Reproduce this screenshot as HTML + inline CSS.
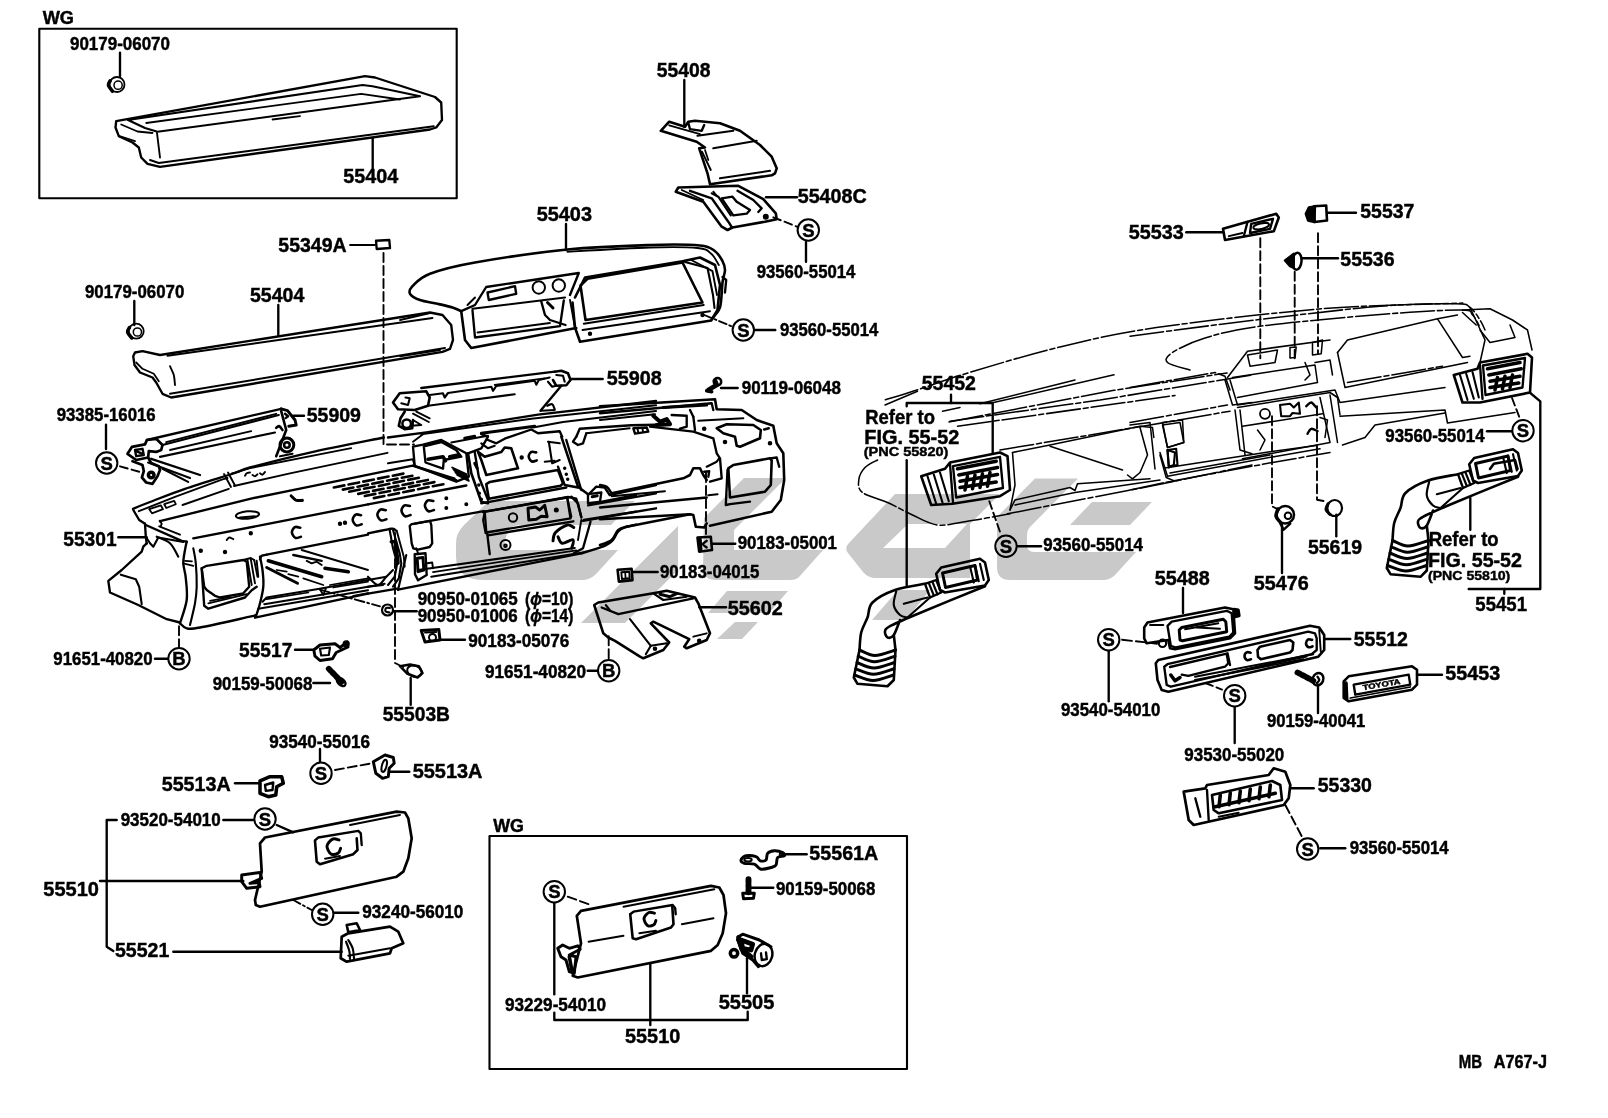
<!DOCTYPE html>
<html><head><meta charset="utf-8"><title>Parts diagram</title>
<style>
html,body{margin:0;padding:0;background:#fff}
svg{display:block;filter:grayscale(1)}
text{font-family:"Liberation Sans",sans-serif;stroke:#000;stroke-width:0.45px}
path,circle,ellipse{stroke-linejoin:round;stroke-linecap:round}
</style></head><body>
<svg width="1608" height="1118" viewBox="0 0 1608 1118">
<rect width="1608" height="1118" fill="#fff"/>
<path d="M489 501 L635 501 L611 525 L520 525 Q508 525 506 537 L505 540 Q503 550 513 550 L618 550 L596 574 Q590 580 582 580 L484 580 Q456 580 456 556 L456 543 Q456 533 464 525 Z" fill="#c9c9c9" stroke="none"/>
<path d="M678 526 L678 570 L625 623 L581 623 Z" fill="#c9c9c9" stroke="none"/>
<path d="M744 478 L786 478 L734 530 L734 550 L823 550 L800 576 Q797 580 790 580 L716 580 Q703 580 703 568 L704 518 Z" fill="#c9c9c9" stroke="none"/>
<path d="M727 591 L788 591 L769 613 L708 613 Z" fill="#c9c9c9" stroke="none"/>
<path d="M735 622 L758 622 L742 639 L717 639 Z" fill="#c9c9c9" stroke="none"/>
<path d="M895 494 L1000 494 L970 524 L970 578 L876 578 Q868 578 863 572 L848 553 Q844 548 849 543 Z M908 524 L967 524 L945 548 L883 548 Z" fill="#c9c9c9" stroke="none" fill-rule="evenodd"/>
<path d="M898 590 L930 590 L906 620 L872 620 Z" fill="#c9c9c9" stroke="none"/>
<path d="M1035 478.5 L1078 478.5 L1030 527 Q1027 530 1027 536 L1027 545 Q1027 552 1034 552 L1136 552 L1115 575 Q1110 580 1103 580 L1010 580 Q997 580 997 567 L997 517 Z" fill="#c9c9c9" stroke="none"/>
<path d="M1092 502 L1152 502 L1130 525 L1070 525 Z" fill="#c9c9c9" stroke="none"/>
<path d="M116.2 121.2 L365 76.2 L375 77.5 L435 97 L441.2 102.5 L442 120 L436.2 127.5 L430 129.5 L160 166.8 L147.5 163.8 L141.2 157.5 L138.8 147.5 L132.5 142.5 L118.8 136.2 L115.5 127.5Z" fill="none" stroke="#000" stroke-width="2.36"/>
<path d="M433.8 126.2 L158.8 163 L150 160" fill="none" stroke="#000" stroke-width="1.89"/>
<path d="M128 120 L362.5 85 L372.5 86.2 L420 96.2 L401.2 98.8 L157.5 131.8 L145 128 L128 120" fill="none" stroke="#000" stroke-width="2.12"/>
<path d="M146.2 123 L361.2 93.8 L400 99.5" fill="none" stroke="#000" stroke-width="1.77"/>
<path d="M157 133 L160 157.5" fill="none" stroke="#000" stroke-width="1.89"/>
<path d="M121.2 124.5 L137.5 131.5 L152.5 133" fill="none" stroke="#000" stroke-width="1.77"/>
<path d="M119.5 136.2 L135 141.2" fill="none" stroke="#000" stroke-width="1.77"/>
<path d="M272.5 119.5 L300 116.2" fill="none" stroke="#000" stroke-width="1.77"/>
<circle cx="117" cy="84.5" r="7.5" fill="none" stroke="#000" stroke-width="1.8"/>
<circle cx="118.1" cy="85.2" r="4.1" fill="none" stroke="#000" stroke-width="1.5"/>
<path d="M110.2 80.8 C109.9 81.5 108 83.5 108.4 85.2 C108.8 87 111.8 90.2 112.5 91.2" fill="none" stroke="#000" stroke-width="3.54"/>
<circle cx="136.2" cy="331.2" r="7.5" fill="none" stroke="#000" stroke-width="1.8"/>
<circle cx="137.4" cy="332" r="4.1" fill="none" stroke="#000" stroke-width="1.5"/>
<path d="M129.5 327.5 C129.2 328.2 127.2 330.2 127.6 332 C128 333.8 131.1 337 131.8 338" fill="none" stroke="#000" stroke-width="3.54"/>
<path d="M135 352.5 L142.5 351.2 L160 355 L430 312.5 L442.5 315 L451.2 325 L453 340 L450 348.8 L442.5 351.8 L171.2 397.5 L162.5 393.8 L156.2 382.5 L152.5 377.5 L140 372.5 L134.5 365 L133.2 356.2Z" fill="none" stroke="#000" stroke-width="2.36"/>
<path d="M167.5 355.8 L432.5 318" fill="none" stroke="#000" stroke-width="1.89"/>
<path d="M170 393.8 L445 348" fill="none" stroke="#000" stroke-width="1.89"/>
<path d="M170 366.2 C170.6 367.7 172.9 371.9 173.8 375 C174.6 378.1 174.8 383.3 175 385" fill="none" stroke="#000" stroke-width="1.89"/>
<path d="M136.2 362.5 L142.5 368.8 L153.8 373.8 L158.8 381.2" fill="none" stroke="#000" stroke-width="1.77"/>
<path d="M127.5 453.8 L131.9 446.9 L145 444.4 L146.9 440 L156.2 438.8 L162.5 445 L161.2 450 L156.2 451.9 L148.8 451.2 L148.1 457.5 L136.2 460Z" fill="none" stroke="#000" stroke-width="2.71"/>
<path d="M135 450 L142.5 448.8 L143.8 455 L136.2 456.2Z" fill="none" stroke="#000" stroke-width="2.36"/>
<path d="M136.2 451.2 L142.5 453.8" fill="none" stroke="#000" stroke-width="2.36"/>
<path d="M132.5 461.2 L142.5 465 L143.8 471.2 L141.9 477.5 L146.2 482.5 L152.5 483.8 L157.5 476.2 L160 470 L158.8 466.2 L151.2 463.1 L148.1 457.5" fill="none" stroke="#000" stroke-width="2.71"/>
<circle cx="151.2" cy="475" r="2.8" fill="none" stroke="#000" stroke-width="3.5"/>
<path d="M146.9 440 L281.2 408.8" fill="none" stroke="#000" stroke-width="2.36"/>
<path d="M162.5 445 L278.8 415" fill="none" stroke="#000" stroke-width="2.12"/>
<path d="M166.2 442.2 L276.2 413.8" fill="none" stroke="#000" stroke-width="1.89"/>
<path d="M170 450 L251.2 431.2" fill="none" stroke="#000" stroke-width="1.89"/>
<path d="M160 456.9 L275 432.5" fill="none" stroke="#000" stroke-width="2.12"/>
<path d="M281.2 408.8 L287.5 410.6 L295 420 L296.2 425 L288.8 426.2" fill="none" stroke="#000" stroke-width="2.95"/>
<path d="M281.2 411.2 L286.2 430 L276.2 456.2" fill="none" stroke="#000" stroke-width="2.6"/>
<path d="M276.2 427.8 C276.8 427.5 278.3 425.9 279.4 426.2 C280.4 426.6 282 429.4 282.5 430" fill="none" stroke="#000" stroke-width="2.6"/>
<path d="M285 413.8 L288.1 416.2 L285.6 418.1" fill="none" stroke="#000" stroke-width="2.36"/>
<circle cx="286.9" cy="445" r="6.9" fill="none" stroke="#000" stroke-width="3"/>
<circle cx="286.9" cy="445" r="2.8" fill="none" stroke="#000" stroke-width="2.5"/>
<path d="M280 456.2 L292.5 453.8" fill="none" stroke="#000" stroke-width="2.12"/>
<path d="M151.2 458.8 L200 475" fill="none" stroke="#000" stroke-width="2.36"/>
<path d="M148.1 462.5 L190 478.1" fill="none" stroke="#000" stroke-width="2.12"/>
<path d="M162.5 468.8 L188.1 481.9" fill="none" stroke="#000" stroke-width="2.12"/>
<path d="M660.8 130.8 L669.2 121.7 L685 126.7 L688.3 121.7 L695 120.8 L720 123.3 L740 130.8 L760 145 L771.7 156.7 L776.7 168.3 L775 173.3 L771.7 175.3 L710 184.2 L707.5 173.3 L699.2 148.3 L705 147.5 L696.7 141.7Z" fill="none" stroke="#000" stroke-width="2.6"/>
<path d="M669.2 125.3 L700 134.2" fill="none" stroke="#000" stroke-width="1.89"/>
<path d="M697.5 135.8 L733.3 130.8" fill="none" stroke="#000" stroke-width="2.12"/>
<path d="M713.3 148.3 L756.7 140.8" fill="none" stroke="#000" stroke-width="2.12"/>
<path d="M720 178.3 L770 170.8" fill="none" stroke="#000" stroke-width="2.12"/>
<path d="M702 151.7 L710.8 170" fill="none" stroke="#000" stroke-width="1.89"/>
<path d="M688.3 122.5 L690 129.2 L701.7 130.8 L704.2 125" fill="none" stroke="#000" stroke-width="2.36"/>
<path d="M705 150 L708.3 160" fill="none" stroke="#000" stroke-width="1.77"/>
<path d="M678.3 187.5 L738.3 185.8 L763.3 199.2 L775.8 213.3 L776.7 219.2 L765 221.7 L732.5 227.5 L727.5 230 L721.7 226.7 L703.3 201.7 L675.8 191.7Z" fill="none" stroke="#000" stroke-width="2.6"/>
<path d="M690 190.8 L711.7 198.3 L728.3 221.7 L731.7 227" fill="none" stroke="#000" stroke-width="2.36"/>
<path d="M711.7 193.3 L718.3 196.7 L730.8 215.3" fill="none" stroke="#000" stroke-width="2.12"/>
<path d="M721.7 198.3 L732.5 196.7 L736.7 201.7 L750 210 L746.7 213.7 L733.3 215.3Z" fill="none" stroke="#000" stroke-width="2.36"/>
<path d="M737.5 190.8 L753.3 200 L761.7 208.3 L758.3 212" fill="none" stroke="#000" stroke-width="2.36"/>
<path d="M713.3 191.7 L717 196" fill="none" stroke="#000" stroke-width="1.89"/>
<circle cx="765.8" cy="216.7" r="2" fill="#000" stroke="#000" stroke-width="2"/>
<path d="M681.7 190 L703.3 200" fill="none" stroke="#000" stroke-width="1.77"/>
<path d="M461.2 311.2 C459.8 310.6 456.5 308.8 452.5 307.5 C448.5 306.2 442.9 305 437.5 303.8 C432.1 302.5 424.6 301.7 420 300 C415.4 298.3 411.2 296 410 293.8 C408.8 291.5 409.2 289.6 412.5 286.2 C415.8 282.9 419.6 277.7 430 273.8 C440.4 269.8 452.1 266.5 475 262.5 C497.9 258.5 538.3 252.4 567.5 249.5 C596.7 246.6 627.9 245.7 650 245 C672.1 244.3 689.2 244.5 700 245.5 C710.8 246.5 711.2 248.6 715 251.2 C718.8 253.9 720.8 258.1 722.5 261.2 C724.2 264.4 725 266.5 725 270 C725 273.5 723.3 276.2 722.5 282.5 C721.7 288.8 721.7 301.6 720 307.5 C718.3 313.4 713.8 316.2 712.5 318" fill="none" stroke="#000" stroke-width="2.6"/>
<path d="M567.5 251.8 C581.2 251 628.3 248.1 650 247.5 C671.7 246.9 687.3 247 697.5 248 C707.7 249 707.7 250.9 711.2 253.8 C714.8 256.6 717.5 263.1 718.8 265" fill="none" stroke="#000" stroke-width="1.89"/>
<path d="M461.2 311.2 L465 340 L471.2 348 L576.2 328" fill="none" stroke="#000" stroke-width="2.6"/>
<path d="M461.2 311.2 L475 305 L486.2 287 L578.8 273 L570 295" fill="none" stroke="#000" stroke-width="2.36"/>
<path d="M487.5 292.5 L515 286.2 L516.2 293.8 L488.8 300Z" fill="none" stroke="#000" stroke-width="2.36"/>
<circle cx="538.8" cy="287.5" r="6.2" fill="none" stroke="#000" stroke-width="2"/>
<circle cx="558.8" cy="285.5" r="6.2" fill="none" stroke="#000" stroke-width="2"/>
<path d="M472.5 308.8 L565 297.5" fill="none" stroke="#000" stroke-width="2.12"/>
<path d="M472.5 310.5 L475 337.5 L560 326.2 L563.8 300.5" fill="none" stroke="#000" stroke-width="2.36"/>
<path d="M477.5 332.5 L550 323" fill="none" stroke="#000" stroke-width="1.77"/>
<path d="M541.2 301.2 L545 315 L550 320 L565.5 325" fill="none" stroke="#000" stroke-width="2.36"/>
<path d="M547.5 302.5 L553 308" fill="none" stroke="#000" stroke-width="2.95"/>
<path d="M467.5 305 L475 297.5" fill="none" stroke="#000" stroke-width="1.89"/>
<path d="M575 297.5 L585 277.5 L682.5 261.2 L700 257.5 L715 265 L720 285 L717.5 310 L711.2 320.5 L580 341.8 L575 327.5 L572.5 302.5" fill="none" stroke="#000" stroke-width="2.6"/>
<path d="M580.5 285.5 L587.5 278.8 L682.5 262.5 L702.5 302.5 L585.5 320Z" fill="none" stroke="#000" stroke-width="2.6"/>
<path d="M685 262 L707.5 268 L713 295 L714.5 308" fill="none" stroke="#000" stroke-width="2.12"/>
<path d="M691.2 260 L712.5 271.2 L717 295" fill="none" stroke="#000" stroke-width="1.89"/>
<path d="M583.8 323.8 L703.8 305" fill="none" stroke="#000" stroke-width="1.89"/>
<path d="M582.5 330 L710 311.2" fill="none" stroke="#000" stroke-width="1.89"/>
<circle cx="590" cy="333.8" r="1.2" fill="#000" stroke="#000" stroke-width="2"/>
<circle cx="702.5" cy="315" r="1.2" fill="#000" stroke="#000" stroke-width="2"/>
<path d="M722.5 277 L726.2 280 L725 292.5" fill="none" stroke="#000" stroke-width="2.36"/>
<path d="M570 300 L575 327.5" fill="none" stroke="#000" stroke-width="1.89"/>
<path d="M400 320 L430 313" fill="none" stroke="#000" stroke-width="1.89"/>
<path d="M400 356.2 L440 350" fill="none" stroke="#000" stroke-width="1.89"/>
<path d="M133 508.8 C135.8 507.6 141.3 505.3 150 502 C158.7 498.7 170.8 493.6 185 488.8 C199.2 483.9 224.2 476.5 235 473 C245.8 469.5 237.3 470.9 250 467.5 C262.7 464.1 288.7 457.3 311 452.3 C333.3 447.3 371.6 440 383.8 437.5" fill="none" stroke="#000" stroke-width="2.36"/>
<path d="M133.3 510 L139.2 520 L145 523.7" fill="none" stroke="#000" stroke-width="2.36"/>
<path d="M138.8 511.2 L175 496.9 L222.5 479.4 L227.5 478" fill="none" stroke="#000" stroke-width="1.89"/>
<path d="M232 473.5 L250 468.1 L351.2 448.1" fill="none" stroke="#000" stroke-width="1.89"/>
<path d="M149.2 509.2 L160.8 505.3 L163 509.2 L152 513.3Z" fill="none" stroke="#000" stroke-width="1.77"/>
<path d="M164.2 504.2 L174.2 500.8 L175.8 504.2 L166.3 508Z" fill="none" stroke="#000" stroke-width="1.77"/>
<path d="M224 474 L231 487" fill="none" stroke="#000" stroke-width="1.89"/>
<path d="M228 472.5 L235 485.5" fill="none" stroke="#000" stroke-width="1.89"/>
<path d="M245 475.8 C245.3 475.4 245.8 473.9 246.7 473.3 C247.5 472.8 249.4 472.6 250 472.5" fill="none" stroke="#000" stroke-width="1.89"/>
<path d="M252.5 475 C252.9 475.2 254.2 476.5 255 476.3 C255.8 476.2 257.1 474.5 257.5 474.2" fill="none" stroke="#000" stroke-width="1.89"/>
<path d="M260 473.3 C260.4 473.6 261.7 474.9 262.5 474.7 C263.3 474.4 264.6 472.4 265 472" fill="none" stroke="#000" stroke-width="1.89"/>
<path d="M182.5 505 L228.8 488.8" fill="none" stroke="#000" stroke-width="1.89"/>
<path d="M234 486 L290 473.4 L387.5 452.8" fill="none" stroke="#000" stroke-width="1.89"/>
<path d="M159.7 520.8 L161.7 523.7 L160.8 526.3" fill="none" stroke="#000" stroke-width="1.89"/>
<path d="M160 521.2 L250 498.8 L311 486.3 L412.5 465.6 L456.2 480" fill="none" stroke="#000" stroke-width="2.36"/>
<path d="M145 523.7 L145.8 536.7 L146.7 543.3" fill="none" stroke="#000" stroke-width="2.36"/>
<path d="M145.8 525 L181.7 540.8 L186.7 541.7" fill="none" stroke="#000" stroke-width="2.36"/>
<path d="M159.2 526.3 L180 534.7" fill="none" stroke="#000" stroke-width="1.89"/>
<path d="M193.3 538.3 L266.7 524.2 L368 504.3" fill="none" stroke="#000" stroke-width="2.36"/>
<path d="M186.7 541.7 C186.4 543.1 185.6 546.4 185 550 C184.4 553.6 183.2 558.6 183.3 563.3 C183.5 568.1 185.3 572.2 185.8 578.3 C186.4 584.4 187.6 592.5 186.7 600 C185.7 607.5 181.1 619.4 180 623.3" fill="none" stroke="#000" stroke-width="2.36"/>
<path d="M193.3 548.3 C193.7 550.8 195.3 556.9 195.8 563.3 C196.4 569.7 196.8 580 196.7 586.7 C196.5 593.3 196.1 596.9 195 603.3 C193.9 609.7 190.8 621.4 190 625" fill="none" stroke="#000" stroke-width="2.12"/>
<path d="M183.3 563.3 L193.3 565.8" fill="none" stroke="#000" stroke-width="1.89"/>
<path d="M185 560.8 L192 561.3" fill="none" stroke="#000" stroke-width="1.77"/>
<path d="M180 623.3 C181.1 624.2 183.3 627.6 186.7 628.3 C190 629 189.4 629.4 200 627.5 C210.6 625.6 240.8 618.7 250 616.7 C259.2 614.6 254.2 615.6 255 615.3" fill="none" stroke="#000" stroke-width="2.36"/>
<path d="M255 617.7 L341.7 599.2 L368 593.7" fill="none" stroke="#000" stroke-width="2.36"/>
<path d="M146.7 543.3 L143.3 546.7 L141.7 551.7 L121.7 570 L108.3 580.8 L110 592.5 L138.3 605 L166.7 619.2 L180 622.5" fill="none" stroke="#000" stroke-width="2.36"/>
<path d="M120.8 574.7 L135.8 579.2 L139.2 586.7 L141.7 604.2" fill="none" stroke="#000" stroke-width="2.12"/>
<path d="M156.7 536.7 C158.9 537.8 166.4 540 170 543.3 C173.6 546.7 176.9 554.4 178.3 556.7" fill="none" stroke="#000" stroke-width="2.12"/>
<path d="M145.8 536.7 L150 543.3 L153.3 546.7 L158.3 537.5 L183.3 542" fill="none" stroke="#000" stroke-width="2.12"/>
<path d="M201.7 568.3 L206.7 565.8 L243.3 560 L246.7 561.7 L249.2 586.7 L243.3 593.3 L220 597.5 L215 595.8 L206.7 590 L204.2 586.7Z" fill="none" stroke="#000" stroke-width="2.36"/>
<path d="M201.7 568.3 L204.2 605.8 L208.3 608.7 L245 597.5 L251.7 590.3 L256.7 586.7" fill="none" stroke="#000" stroke-width="2.36"/>
<path d="M208.3 603.3 L246.7 594.2" fill="none" stroke="#000" stroke-width="1.77"/>
<path d="M210 600.8 L230 597" fill="none" stroke="#000" stroke-width="1.77"/>
<path d="M247.5 560 L251.7 585" fill="none" stroke="#000" stroke-width="1.89"/>
<path d="M250.8 559.2 L255 583.3" fill="none" stroke="#000" stroke-width="1.89"/>
<path d="M254.2 560 L257.5 576.7" fill="none" stroke="#000" stroke-width="1.89"/>
<path d="M243.3 560 L250.8 558 L254.2 560" fill="none" stroke="#000" stroke-width="1.89"/>
<path d="M260 556.7 C260.4 558.9 261.9 565 262.5 570 C263.1 575 263.8 581.1 263.3 586.7 C262.9 592.2 261.2 598.3 260 603.3 C258.8 608.3 256.5 614.4 255.8 616.7" fill="none" stroke="#000" stroke-width="2.36"/>
<path d="M256.7 560.8 L258.3 576.7" fill="none" stroke="#000" stroke-width="1.89"/>
<path d="M260 559.2 C260.3 558.6 260.6 556.6 261.7 555.8 C262.8 555.1 265.8 554.9 266.7 554.7" fill="none" stroke="#000" stroke-width="2.36"/>
<path d="M266.7 554.7 L368 534.7" fill="none" stroke="#000" stroke-width="2.36"/>
<path d="M268.3 560.8 L321.7 576.7" fill="none" stroke="#000" stroke-width="3.54"/>
<path d="M266.7 567.5 L297.5 583.3" fill="none" stroke="#000" stroke-width="2.95"/>
<path d="M293.3 555 L321.7 560.8" fill="none" stroke="#000" stroke-width="2.36"/>
<path d="M301.7 550 L368 570" fill="none" stroke="#000" stroke-width="1.89"/>
<path d="M306.7 560.8 L311.7 563.3 L316.7 561.7 L321.7 565" fill="none" stroke="#000" stroke-width="1.89"/>
<path d="M325 568.3 L348.3 571.7" fill="none" stroke="#000" stroke-width="3.54"/>
<path d="M276.7 570 L286.7 571.7" fill="none" stroke="#000" stroke-width="1.77"/>
<path d="M288.3 574.2 L298.3 576.7" fill="none" stroke="#000" stroke-width="1.77"/>
<path d="M303.3 578.3 L323.3 585" fill="none" stroke="#000" stroke-width="1.77"/>
<path d="M262.5 601.7 L266.7 597.5 L316.7 589.2 L368 580" fill="none" stroke="#000" stroke-width="2.12"/>
<path d="M264.2 604.2 L320 595 L368 586.7" fill="none" stroke="#000" stroke-width="1.89"/>
<path d="M266.7 599.2 L308.3 592.5" fill="none" stroke="#000" stroke-width="1.77"/>
<path d="M258.3 608.7 L368 590.3" fill="none" stroke="#000" stroke-width="2.12"/>
<path d="M320 589.2 L323.3 595 L325.8 588.3" fill="none" stroke="#000" stroke-width="1.89"/>
<path d="M330 585 L368 578.3" fill="none" stroke="#000" stroke-width="1.77"/>
<path d="M333.3 587.5 L368 581.7" fill="none" stroke="#000" stroke-width="1.77"/>
<path d="M353.3 595.8 L368 593" fill="none" stroke="#000" stroke-width="1.77"/>
<path d="M300.3 527.7 C299.4 527.6 296.3 526.3 294.9 527.1 C293.5 527.9 291.8 530.7 291.9 532.5 C292 534.3 294 537.2 295.5 537.9 C297 538.6 300 536.9 300.9 536.7" fill="none" stroke="#000" stroke-width="2.6"/>
<path d="M361.1 515.2 C360.2 515.1 357.1 513.8 355.7 514.6 C354.3 515.4 352.6 518.2 352.7 520 C352.8 521.8 354.8 524.7 356.3 525.4 C357.8 526.1 360.8 524.4 361.7 524.2" fill="none" stroke="#000" stroke-width="2.6"/>
<circle cx="250.8" cy="533.3" r="1.2" fill="#000" stroke="#000" stroke-width="2"/>
<circle cx="200.8" cy="550.8" r="1.2" fill="#000" stroke="#000" stroke-width="2"/>
<circle cx="225" cy="552" r="1.2" fill="#000" stroke="#000" stroke-width="2"/>
<circle cx="340" cy="523.7" r="1.2" fill="#000" stroke="#000" stroke-width="2"/>
<circle cx="345" cy="522.7" r="1.2" fill="#000" stroke="#000" stroke-width="2"/>
<path d="M226.7 540 C227.1 539.6 228.1 537.6 229.2 537.5 C230.3 537.4 232.6 538.9 233.3 539.2" fill="none" stroke="#000" stroke-width="1.89"/>
<ellipse cx="247.5" cy="515" rx="11.7" ry="3.7" fill="none" stroke="#000" stroke-width="2" transform="rotate(-5 247.5 515)"/>
<path d="M240 517.5 L255 516.3" fill="none" stroke="#000" stroke-width="1.89"/>
<path d="M290.8 495.8 C291.7 496.6 293.9 499.5 295.8 500.3 C297.8 501.2 301.4 500.8 302.5 500.8" fill="none" stroke="#000" stroke-width="2.36"/>
<path d="M333.8 487.5 L344.4 485.4" fill="none" stroke="#000" stroke-width="2.6"/>
<path d="M348.5 484.6 L359.1 482.4" fill="none" stroke="#000" stroke-width="2.6"/>
<path d="M363.2 481.6 L373.9 479.5" fill="none" stroke="#000" stroke-width="2.6"/>
<path d="M378 478.6 L388.6 476.5" fill="none" stroke="#000" stroke-width="2.6"/>
<path d="M392.8 475.7 L403.4 473.6" fill="none" stroke="#000" stroke-width="2.6"/>
<path d="M342.8 489.6 L353.4 487.5" fill="none" stroke="#000" stroke-width="2.6"/>
<path d="M357.5 486.7 L368.1 484.6" fill="none" stroke="#000" stroke-width="2.6"/>
<path d="M372.2 483.7 L382.9 481.6" fill="none" stroke="#000" stroke-width="2.6"/>
<path d="M387 480.8 L397.6 478.6" fill="none" stroke="#000" stroke-width="2.6"/>
<path d="M401.8 477.8 L412.4 475.7" fill="none" stroke="#000" stroke-width="2.6"/>
<path d="M349.2 491.8 L359.9 489.6" fill="none" stroke="#000" stroke-width="2.6"/>
<path d="M364 488.8 L374.6 486.7" fill="none" stroke="#000" stroke-width="2.6"/>
<path d="M378.8 485.9 L389.4 483.7" fill="none" stroke="#000" stroke-width="2.6"/>
<path d="M393.5 482.9 L404.1 480.8" fill="none" stroke="#000" stroke-width="2.6"/>
<path d="M408.2 479.9 L418.9 477.8" fill="none" stroke="#000" stroke-width="2.6"/>
<path d="M358.2 493.9 L368.9 491.8" fill="none" stroke="#000" stroke-width="2.6"/>
<path d="M373 490.9 L383.6 488.8" fill="none" stroke="#000" stroke-width="2.6"/>
<path d="M387.8 488 L398.4 485.9" fill="none" stroke="#000" stroke-width="2.6"/>
<path d="M402.5 485 L413.1 482.9" fill="none" stroke="#000" stroke-width="2.6"/>
<path d="M417.2 482.1 L427.9 479.9" fill="none" stroke="#000" stroke-width="2.6"/>
<path d="M364.8 496 L375.4 493.9" fill="none" stroke="#000" stroke-width="2.6"/>
<path d="M379.5 493.1 L390.1 490.9" fill="none" stroke="#000" stroke-width="2.6"/>
<path d="M394.2 490.1 L404.9 488" fill="none" stroke="#000" stroke-width="2.6"/>
<path d="M409 487.1 L419.6 485" fill="none" stroke="#000" stroke-width="2.6"/>
<path d="M423.8 484.2 L434.4 482.1" fill="none" stroke="#000" stroke-width="2.6"/>
<path d="M373.8 498.1 L384.4 496" fill="none" stroke="#000" stroke-width="2.6"/>
<path d="M388.5 495.2 L399.1 493.1" fill="none" stroke="#000" stroke-width="2.6"/>
<path d="M403.2 492.2 L413.9 490.1" fill="none" stroke="#000" stroke-width="2.6"/>
<path d="M418 489.3 L428.6 487.1" fill="none" stroke="#000" stroke-width="2.6"/>
<path d="M432.8 486.3 L443.4 484.2" fill="none" stroke="#000" stroke-width="2.6"/>
<path d="M291.2 495.6 C292.1 496.4 294.4 499.3 296.2 500 C298.1 500.7 301.5 500 302.5 500" fill="none" stroke="#000" stroke-width="2.36"/>
<path d="M368 504.3 L466.3 485.5" fill="none" stroke="#000" stroke-width="2.36"/>
<path d="M385.8 510.2 C384.9 510.1 381.8 508.8 380.4 509.6 C379 510.4 377.3 513.2 377.4 515 C377.5 516.8 379.5 519.7 381 520.4 C382.5 521.1 385.5 519.4 386.4 519.2" fill="none" stroke="#000" stroke-width="2.6"/>
<path d="M409.9 506 C409 505.9 405.9 504.6 404.5 505.4 C403.1 506.2 401.4 509 401.5 510.8 C401.6 512.6 403.6 515.5 405.1 516.2 C406.6 516.9 409.6 515.2 410.5 515" fill="none" stroke="#000" stroke-width="2.6"/>
<path d="M433.3 501 C432.4 500.9 429.3 499.6 427.9 500.4 C426.5 501.2 424.8 504 424.9 505.8 C425 507.6 427 510.5 428.5 511.2 C430 511.9 433 510.2 433.9 510" fill="none" stroke="#000" stroke-width="2.6"/>
<circle cx="446.3" cy="498.3" r="1" fill="#000" stroke="#000" stroke-width="2"/>
<circle cx="446.3" cy="508" r="1" fill="#000" stroke="#000" stroke-width="2"/>
<circle cx="466.3" cy="504.2" r="1" fill="#000" stroke="#000" stroke-width="2"/>
<path d="M368 533.3 C371.3 532.7 383.8 530.1 388 529.3 C392.2 528.6 391.6 528.4 393 528.7 C394.4 528.9 395.8 530.5 396.3 530.8" fill="none" stroke="#000" stroke-width="2.36"/>
<path d="M389.7 530.3 L393 548.3 L397.2 563.3 L394.7 576.7 L388 585" fill="none" stroke="#000" stroke-width="2.12"/>
<path d="M393 530 L399.7 553.3 L401.3 563.3 L398.8 578.3 L393 586.7" fill="none" stroke="#000" stroke-width="2.12"/>
<path d="M396.7 530.8 L403.8 556.7 L404.7 566.7" fill="none" stroke="#000" stroke-width="1.89"/>
<path d="M391.3 541.7 L395.5 541.7 L398 563.3" fill="none" stroke="#000" stroke-width="3.54"/>
<path d="M368 576.7 C369.7 578.1 374.9 585 378 585 C381.1 585 383.8 579.2 386.3 576.7 C388.8 574.2 391.9 571.1 393 570" fill="none" stroke="#000" stroke-width="2.12"/>
<path d="M368 586.7 L383 585" fill="none" stroke="#000" stroke-width="1.89"/>
<path d="M406.3 555 L398 590" fill="none" stroke="#000" stroke-width="2.12"/>
<path d="M409.7 525.8 L411.7 524.2 L430 520.8 L431.3 525 L432.2 543.3 L429.7 547 L418 549.7 L413.3 548.3 L411.7 543.3Z" fill="none" stroke="#000" stroke-width="2.36"/>
<path d="M416.3 548.3 L418 553.3" fill="none" stroke="#000" stroke-width="1.89"/>
<path d="M414.7 554.2 L425.5 553.3 L426.7 575 L418 580.3 L415 574.2Z" fill="none" stroke="#000" stroke-width="2.36"/>
<path d="M417.2 558.3 L423 557.5 L423.8 570 L418 571.7Z" fill="none" stroke="#000" stroke-width="2.95"/>
<path d="M427.2 563.3 L432.2 562.5 L433 568.3" fill="none" stroke="#000" stroke-width="1.89"/>
<path d="M415 523.7 L483.7 511.2" fill="none" stroke="#000" stroke-width="2.36"/>
<path d="M484.7 511.7 L567.2 497.5 L570.5 518.3 L486.3 532.5Z" fill="none" stroke="#000" stroke-width="2.36"/>
<path d="M488 535.3 L573.3 521.3" fill="none" stroke="#000" stroke-width="2.36"/>
<path d="M487.2 533.3 L489.7 554.2" fill="none" stroke="#000" stroke-width="2.36"/>
<path d="M484.7 511.7 L483 520 L485.5 533.3" fill="none" stroke="#000" stroke-width="1.89"/>
<circle cx="513" cy="517.5" r="4.2" fill="none" stroke="#000" stroke-width="2"/>
<path d="M528 508.3 L535.5 507 L539.7 510 L544.7 505.3 L547.2 516.7 L541.3 516.3 L536.3 519.2 L528.8 520Z" fill="none" stroke="#000" stroke-width="2.95"/>
<circle cx="556.3" cy="510" r="1.5" fill="#000" stroke="#000" stroke-width="2"/>
<circle cx="505.5" cy="545" r="5" fill="none" stroke="#000" stroke-width="2"/>
<circle cx="505.5" cy="545.8" r="1.3" fill="none" stroke="#000" stroke-width="2"/>
<path d="M553 540.8 C553.4 539.4 553.1 535.1 555.5 532.5 C557.9 529.9 564.1 525.8 567.2 525 C570.2 524.2 572.7 527.1 573.8 527.5" fill="none" stroke="#000" stroke-width="2.95"/>
<path d="M558 536.7 C558.7 537.8 559.7 542.8 562.2 543.3 C564.7 543.8 571.4 538.8 573 539.7 C574.6 540.5 571.9 546.9 571.7 548.3" fill="none" stroke="#000" stroke-width="2.95"/>
<path d="M571.3 496.7 L578 503.3 L581.3 517.5" fill="none" stroke="#000" stroke-width="2.36"/>
<path d="M590.5 521.7 L583 548.3 L573.8 553.3" fill="none" stroke="#000" stroke-width="2.36"/>
<path d="M581.3 520 L578 540" fill="none" stroke="#000" stroke-width="1.89"/>
<path d="M583.8 520 L636 511.7" fill="none" stroke="#000" stroke-width="2.36"/>
<path d="M589.7 504.2 L636 495" fill="none" stroke="#000" stroke-width="2.36"/>
<path d="M418 570 L574.7 548" fill="none" stroke="#000" stroke-width="2.12"/>
<path d="M431.3 576.7 L583 552.5" fill="none" stroke="#000" stroke-width="2.12"/>
<path d="M433 572 L576.3 550.3" fill="none" stroke="#000" stroke-width="1.77"/>
<path d="M398 589.7 L581.3 553.3" fill="none" stroke="#000" stroke-width="2.36"/>
<path d="M581.3 553.3 C585.2 552.1 599.4 548.1 604.7 545.8 C609.9 543.6 610.8 542.4 613 540 C615.2 537.6 616.1 533.8 618 531.7 C619.9 529.6 621.7 528.7 624.7 527.5 C627.7 526.3 634.1 525.1 636 524.7" fill="none" stroke="#000" stroke-width="2.36"/>
<path d="M368 593.7 L397.2 588.7" fill="none" stroke="#000" stroke-width="2.36"/>
<path d="M368 580 L386.3 576.7" fill="none" stroke="#000" stroke-width="1.89"/>
<path d="M368 586.7 L384.7 583.8" fill="none" stroke="#000" stroke-width="1.89"/>
<path d="M421.3 388 L554.7 371.7" fill="none" stroke="#000" stroke-width="2.36"/>
<path d="M429.7 395 L443 393.3 L444.7 397.5 L448 393 L491.3 386.7 L493 390.8 L496.3 386 L534.7 380.8 L536.3 384.7 L538.8 380 L549.7 377.5" fill="none" stroke="#000" stroke-width="2.12"/>
<path d="M494.7 385 L544.7 378.3" fill="none" stroke="#000" stroke-width="1.77"/>
<path d="M428 405.8 L514.7 394.2" fill="none" stroke="#000" stroke-width="2.12"/>
<path d="M393 402.5 L399.7 393.3 L426.3 391.3 L429.7 397.5 L428 405.8 L414.7 410 L398 409.2Z" fill="none" stroke="#000" stroke-width="2.6"/>
<path d="M401.3 403.3 L408 405 L409.7 398.3 L405.5 397.5" fill="none" stroke="#000" stroke-width="2.12"/>
<path d="M404.7 411.7 L400.5 418.3 L398.8 425.8 L404.7 429.2 L412.2 428.3 L413 420" fill="none" stroke="#000" stroke-width="2.6"/>
<circle cx="406.7" cy="423.7" r="4.3" fill="none" stroke="#000" stroke-width="2.5"/>
<path d="M413 413.7 L428.8 422" fill="none" stroke="#000" stroke-width="1.89"/>
<path d="M416.3 411.7 L429.7 418.3" fill="none" stroke="#000" stroke-width="1.89"/>
<path d="M413 420 L421.3 425 L411.3 425.8" fill="none" stroke="#000" stroke-width="1.89"/>
<path d="M554.7 371.7 L561.3 370.8 L568 373.3 L570.5 380 L566.3 385.3 L556.3 385.8 L553 380" fill="none" stroke="#000" stroke-width="2.6"/>
<path d="M556.3 375 L563 375.8 L564.7 381.7" fill="none" stroke="#000" stroke-width="2.12"/>
<path d="M548 381.7 L552.2 386.7 L556.3 385.8" fill="none" stroke="#000" stroke-width="2.12"/>
<path d="M561.3 385.8 L540.5 410.8" fill="none" stroke="#000" stroke-width="2.36"/>
<path d="M547.2 405.8 C548 405.6 550.9 403.6 552.2 404.2 C553.4 404.7 554.2 408.3 554.7 409.2" fill="none" stroke="#000" stroke-width="2.12"/>
<path d="M541.3 410.8 L554.7 410" fill="none" stroke="#000" stroke-width="1.89"/>
<path d="M388 437.5 L426.3 432.3 L538 414.7 L656 401" fill="none" stroke="#000" stroke-width="2.36"/>
<path d="M421.3 434.2 L531.3 418.7 L656 405.3" fill="none" stroke="#000" stroke-width="2.12"/>
<path d="M413 441.7 L423 434.2" fill="none" stroke="#000" stroke-width="1.89"/>
<path d="M533 427.5 L563 422 L656 411" fill="none" stroke="#000" stroke-width="2.12"/>
<path d="M481.3 433.3 L534.7 426.3" fill="none" stroke="#000" stroke-width="2.95"/>
<path d="M451.3 442.5 L478 437.5 L488 435.8" fill="none" stroke="#000" stroke-width="1.89"/>
<path d="M464.7 438.3 L474.7 436.3" fill="none" stroke="#000" stroke-width="2.95"/>
<path d="M413 446.7 L414.7 465.8 L456.3 481.7 L468.8 476.7 L466.3 453.3 L441.3 440 L423 444.7Z" fill="none" stroke="#000" stroke-width="2.36"/>
<path d="M423.8 446.3 L425.5 462.5 L443 468.7 L443.8 460 L461.3 456.7 L456.3 450.3 L441.3 442Z" fill="none" stroke="#000" stroke-width="2.36"/>
<path d="M428 459.2 L443 456.7 L445.5 460.8" fill="none" stroke="#000" stroke-width="3.54"/>
<path d="M449.7 456.7 L458 455" fill="none" stroke="#000" stroke-width="3.54"/>
<path d="M452.2 467.5 L466.3 474.2" fill="none" stroke="#000" stroke-width="1.89"/>
<path d="M453.2 469 L466.8 475.5" fill="none" stroke="#000" stroke-width="1.89"/>
<path d="M454.2 470.5 L467.3 476.8" fill="none" stroke="#000" stroke-width="1.89"/>
<path d="M455.2 472 L467.8 478.2" fill="none" stroke="#000" stroke-width="1.89"/>
<path d="M456.2 473.5 L468.3 479.5" fill="none" stroke="#000" stroke-width="1.89"/>
<path d="M457.2 475 L468.8 480.8" fill="none" stroke="#000" stroke-width="1.89"/>
<path d="M414.7 465.8 L454.7 478.3" fill="none" stroke="#000" stroke-width="1.89"/>
<path d="M468 453.3 L471.3 473.3 L481.3 501.7 L488 503.3" fill="none" stroke="#000" stroke-width="2.6"/>
<path d="M474.7 452 L478.8 476.7 L488 500" fill="none" stroke="#000" stroke-width="2.36"/>
<path d="M468 453.3 L481.3 448.3 L488 436.7 L481.3 434.2" fill="none" stroke="#000" stroke-width="2.36"/>
<path d="M488 440 L496.3 443.3 L504.7 438.7 L531.3 429.5 L538 433.3 L559.7 431.3 L562.2 436.7" fill="none" stroke="#000" stroke-width="2.36"/>
<path d="M481.3 443.3 L488 448.3 L494.7 445.8" fill="none" stroke="#000" stroke-width="2.12"/>
<path d="M478 451.7 L484.7 456.7 L501.3 452 L504.7 447.5 L511.3 448.3 L516.3 463.3 L518 468.3 L486.3 475 L481.3 460Z" fill="none" stroke="#000" stroke-width="2.6"/>
<path d="M536.2 452.4 C535.4 452.3 532.6 451.2 531.4 451.9 C530.2 452.6 528.6 455.1 528.7 456.7 C528.8 458.3 530.6 460.8 531.9 461.5 C533.3 462.1 535.9 460.6 536.7 460.4" fill="none" stroke="#000" stroke-width="2.6"/>
<circle cx="521.7" cy="457.5" r="1.2" fill="#000" stroke="#000" stroke-width="2"/>
<path d="M474.7 463.3 L477.2 468.3" fill="none" stroke="#000" stroke-width="2.95"/>
<path d="M486.3 484.2 L489.7 482 L558 470 L563 483.3 L560.5 485.8 L488.8 498.7Z" fill="none" stroke="#000" stroke-width="2.6"/>
<path d="M548 441.7 L559.7 443.3" fill="none" stroke="#000" stroke-width="2.12"/>
<path d="M548.8 441.7 L552.2 463.3 L559.7 460" fill="none" stroke="#000" stroke-width="2.12"/>
<path d="M544.7 461.7 L554.7 460.8" fill="none" stroke="#000" stroke-width="1.89"/>
<path d="M561.3 436.7 L578 486.7 L588 494.2" fill="none" stroke="#000" stroke-width="2.6"/>
<path d="M566.3 440 L581.3 490" fill="none" stroke="#000" stroke-width="2.36"/>
<path d="M558 466.7 L564.7 485 L578 487.5" fill="none" stroke="#000" stroke-width="2.36"/>
<circle cx="564.7" cy="468.3" r="1" fill="#000" stroke="#000" stroke-width="1.5"/>
<circle cx="566.3" cy="474.2" r="1" fill="#000" stroke="#000" stroke-width="1.5"/>
<circle cx="567.7" cy="479.2" r="1" fill="#000" stroke="#000" stroke-width="1.5"/>
<circle cx="478.8" cy="485" r="1" fill="#000" stroke="#000" stroke-width="1.5"/>
<circle cx="479.3" cy="493.3" r="1" fill="#000" stroke="#000" stroke-width="1.5"/>
<circle cx="481.3" cy="499.2" r="1" fill="#000" stroke="#000" stroke-width="1.5"/>
<path d="M481.3 503.3 L566.3 487.5" fill="none" stroke="#000" stroke-width="2.36"/>
<path d="M483 512 L568 497 L576.3 498.7 L581.3 516.7" fill="none" stroke="#000" stroke-width="2.36"/>
<path d="M567.2 497.5 L571.3 516.7" fill="none" stroke="#000" stroke-width="2.12"/>
<path d="M576.3 436.7 L579.7 428.7 L631.3 425.3 L656 424.7" fill="none" stroke="#000" stroke-width="2.36"/>
<path d="M576.3 436.7 L573 441.7 L578 445 L583 443.3 L586.3 433.3" fill="none" stroke="#000" stroke-width="2.36"/>
<path d="M586.3 433.3 L629.7 428.3" fill="none" stroke="#000" stroke-width="1.89"/>
<path d="M588 495 L596.3 486.7 L604.7 487.5 L609.7 495 L656 485" fill="none" stroke="#000" stroke-width="2.36"/>
<path d="M588 494.2 L601.3 492.5 L600 501.7 L588 503.3Z" fill="none" stroke="#000" stroke-width="2.36"/>
<path d="M592.2 496.7 L597.2 495.8" fill="none" stroke="#000" stroke-width="2.95"/>
<path d="M613 493.3 L629.7 490.3" fill="none" stroke="#000" stroke-width="1.89"/>
<path d="M588 505.3 L656 493.3" fill="none" stroke="#000" stroke-width="2.36"/>
<path d="M583 520.8 L656 508.3" fill="none" stroke="#000" stroke-width="2.36"/>
<path d="M388 463.3 L413 459.2 L414.7 465.8" fill="none" stroke="#000" stroke-width="2.12"/>
<path d="M600 406.3 L715 399.2 L716.7 409.2 L741.7 410 L756.7 420 L773.3 425.8 L776.7 443.3 L783.3 453.3 L784.2 480 L780.8 500 L771.7 511.7 L710 525.8" fill="none" stroke="#000" stroke-width="2.6"/>
<path d="M600 413.3 L711.7 403.3 L713.3 410" fill="none" stroke="#000" stroke-width="2.36"/>
<path d="M600 420 L655 414.2" fill="none" stroke="#000" stroke-width="2.12"/>
<path d="M663.3 407.5 L706.7 405" fill="none" stroke="#000" stroke-width="2.95"/>
<path d="M653.3 415.8 L660 421.7 L666.7 419.2 L670 424.2 L656.7 425" fill="none" stroke="#000" stroke-width="4.13"/>
<path d="M671.7 415 L686.7 415.8 L686.7 426.7 L680 428.7" fill="none" stroke="#000" stroke-width="2.36"/>
<path d="M633.3 428.3 L646.7 427.5 L648.3 431.7 L635 433.7Z" fill="none" stroke="#000" stroke-width="2.36"/>
<path d="M637.5 428.7 L638.3 432.5" fill="none" stroke="#000" stroke-width="1.89"/>
<path d="M642.5 428.3 L643 432" fill="none" stroke="#000" stroke-width="1.89"/>
<path d="M650 426.7 L693.3 431.7 L713.3 438.3 L716.7 453.3 L720 458.3 L721.7 478.3 L710 481.7" fill="none" stroke="#000" stroke-width="2.36"/>
<path d="M693.3 416.7 L695 430" fill="none" stroke="#000" stroke-width="2.36"/>
<path d="M690 410 L693.3 416.7" fill="none" stroke="#000" stroke-width="2.36"/>
<path d="M698.3 420.8 L743.3 418.3" fill="none" stroke="#000" stroke-width="2.12"/>
<path d="M716.7 428.3 L726.7 424.2 L753.3 425 L760.8 430 L760 438.3 L740 446.7 L736.7 445.8 L735 436.7 L723.3 433.3Z" fill="none" stroke="#000" stroke-width="2.6"/>
<circle cx="704.2" cy="428.7" r="1.3" fill="#000" stroke="#000" stroke-width="2"/>
<circle cx="725" cy="442" r="1.3" fill="#000" stroke="#000" stroke-width="2"/>
<circle cx="770" cy="443.3" r="1.3" fill="#000" stroke="#000" stroke-width="2"/>
<path d="M764.2 429.5 L768.7 428.3" fill="none" stroke="#000" stroke-width="2.6"/>
<path d="M728.3 468.3 L733.3 465 L770 458.3 L771.7 460.3 L770.8 485 L765 491.7 L730 497.5Z" fill="none" stroke="#000" stroke-width="2.6"/>
<path d="M727.5 470 L725.8 505 L730 504.2 L750 501.7" fill="none" stroke="#000" stroke-width="2.36"/>
<path d="M770 458.3 L776.7 457.5 L779.2 466.7" fill="none" stroke="#000" stroke-width="2.36"/>
<path d="M600 519.2 L690 514.2 L693.3 515 L695.8 526.7 L704.2 527.5 L706.7 523.3" fill="none" stroke="#000" stroke-width="2.6"/>
<path d="M600 485 C601.1 485.3 604.7 485.3 606.7 486.7 C608.6 488.1 610.8 492.2 611.7 493.3" fill="none" stroke="#000" stroke-width="2.36"/>
<path d="M611.7 493.3 L683.3 478.3 L690 475 L693.3 468.3 L700 468.3 L703.3 475 L706.7 480" fill="none" stroke="#000" stroke-width="2.6"/>
<path d="M611.7 496.2 L665 491.2" fill="none" stroke="#000" stroke-width="1.89"/>
<path d="M706.7 466.7 L716.7 461.7 L719.2 458.3" fill="none" stroke="#000" stroke-width="2.12"/>
<path d="M704.2 471.7 L709.2 471.3 L708.3 476.7" fill="none" stroke="#000" stroke-width="2.36"/>
<path d="M708.3 495.3 L717.5 494.3" fill="none" stroke="#000" stroke-width="2.12"/>
<path d="M600 507.5 L706.7 497.5" fill="none" stroke="#000" stroke-width="2.36"/>
<path d="M600 545 C601.9 544.2 608.6 542.5 611.7 540 C614.7 537.5 615.8 532.2 618.3 530 C620.8 527.8 625.3 527.2 626.7 526.7" fill="none" stroke="#000" stroke-width="2.6"/>
<path d="M626.7 526.7 L690 514.2" fill="none" stroke="#000" stroke-width="2.6"/>
<path d="M697.5 537.5 L710.8 536.7 L712 550 L699.2 551.7Z" fill="none" stroke="#000" stroke-width="2.6"/>
<path d="M706.7 540.8 C706.1 541.4 703 543.1 703 544.2 C703 545.3 706.1 546.9 706.7 547.5" fill="none" stroke="#000" stroke-width="2.36"/>
<path d="M700 539.2 L700.8 550" fill="none" stroke="#000" stroke-width="3.54"/>
<path d="M708.3 390 L716.7 385 L715 380.8" fill="none" stroke="#000" stroke-width="4.72"/>
<circle cx="717.5" cy="381.7" r="3.7" fill="none" stroke="#000" stroke-width="2.5"/>
<path d="M706.7 390.8 L711.7 391.7" fill="none" stroke="#000" stroke-width="3.54"/>
<path d="M617.6 569.8 L631.6 568.9 L632.5 580.1 L618.9 581.6Z" fill="none" stroke="#000" stroke-width="2.6"/>
<path d="M621.3 572.2 L629.3 571.7 L629.7 578.2 L621.9 579Z" fill="none" stroke="#000" stroke-width="1.89"/>
<path d="M625.2 572.2 L625.6 578.6" fill="none" stroke="#000" stroke-width="1.77"/>
<path d="M1223 228.8 L1245 222.5 L1276.2 213.8 L1278.8 217.5 L1273.8 231.2 L1225 240Z" fill="none" stroke="#000" stroke-width="2.6"/>
<path d="M1247.5 222 L1243.8 236.2" fill="none" stroke="#000" stroke-width="2.36"/>
<path d="M1251.2 223.8 L1273 218.8 L1270 228.8 L1250 233Z" fill="none" stroke="#000" stroke-width="2.36"/>
<ellipse cx="1261.2" cy="226.2" rx="8" ry="2.8" fill="none" stroke="#000" stroke-width="2" transform="rotate(-12 1261.2 226.2)"/>
<path d="M1228.8 236.2 L1242.5 233" fill="none" stroke="#000" stroke-width="1.89"/>
<path d="M1313.8 206.2 L1326.2 205.5 L1327 220.5 L1314.5 222Z" fill="none" stroke="#000" stroke-width="2.6"/>
<path d="M1315 206.5 L1308.8 207.5 L1305.8 213.8 L1308 220.5 L1314.5 222Z" fill="#000" stroke="#000" stroke-width="2.36"/>
<ellipse cx="1297" cy="261.2" rx="4.5" ry="8.5" fill="none" stroke="#000" stroke-width="2.5" transform="rotate(5 1297 261.2)"/>
<path d="M1293.8 253.8 L1285 260.5 L1290 266.2 L1293.8 268Z" fill="#000" stroke="#000" stroke-width="2.36"/>
<path d="M1130 336.2 C1150.8 333.5 1213.3 325 1255 320 C1296.7 315 1346.7 309 1380 306.2 C1413.3 303.5 1440 303.5 1455 303.8 C1470 304 1465.8 304.8 1470 307.5 C1474.2 310.2 1477.5 316.2 1480 320 C1482.5 323.8 1484.2 328.3 1485 330" fill="none" stroke="#000" stroke-width="1.53" stroke-dasharray="34 3 5 3"/>
<path d="M1190 370 C1186.2 368.8 1170.4 365.4 1167.5 362.5 C1164.6 359.6 1166.2 356.6 1172.5 352.5 C1178.8 348.4 1190.4 342.4 1205 338 C1219.6 333.6 1230.8 330.2 1260 326.2 C1289.2 322.3 1346.7 317.2 1380 314.5 C1413.3 311.8 1444.6 309.9 1460 310 C1475.4 310.1 1469.2 312.1 1472.5 315 C1475.8 317.9 1478.8 325.4 1480 327.5" fill="none" stroke="#000" stroke-width="1.53" stroke-dasharray="34 3 5 3"/>
<path d="M1130 387.5 L1215 372.5 L1225 376.2 L1230 390" fill="none" stroke="#000" stroke-width="1.53" stroke-dasharray="34 3 5 3"/>
<path d="M1130 422.5 L1227.5 405" fill="none" stroke="#000" stroke-width="1.53" stroke-dasharray="34 3 5 3"/>
<path d="M1227.5 377.5 L1247.5 351.2 L1330 340" fill="none" stroke="#000" stroke-width="1.53"/>
<path d="M1230 380 L1237.5 405 L1335 390 L1340 402.5 L1445 387.5" fill="none" stroke="#000" stroke-width="1.53"/>
<path d="M1247.5 355 L1277.5 350 L1275 362.5 L1250 366.2Z" fill="none" stroke="#000" stroke-width="1.53"/>
<path d="M1290 347.5 L1296.2 347 L1295 357.5 L1290 358Z" fill="none" stroke="#000" stroke-width="1.53"/>
<path d="M1312.5 342.5 L1322.5 340 L1321.2 353.8 L1312.5 355Z" fill="none" stroke="#000" stroke-width="1.53"/>
<path d="M1232.5 377.5 L1315 365 L1317.5 382.5 L1237.5 397.5" fill="none" stroke="#000" stroke-width="1.53"/>
<path d="M1305 362.5 L1310 375 L1305 380" fill="none" stroke="#000" stroke-width="1.53"/>
<path d="M1315 362.5 L1330 360 L1332.5 375" fill="none" stroke="#000" stroke-width="1.53"/>
<path d="M1337.5 352.5 L1347.5 340 L1437.5 318.8 L1462.5 357.5 L1470 356.2" fill="none" stroke="#000" stroke-width="1.53"/>
<path d="M1337.5 352.5 L1345 387.5 L1467.5 362.5" fill="none" stroke="#000" stroke-width="1.53"/>
<path d="M1437.5 318.8 L1457.5 315" fill="none" stroke="#000" stroke-width="1.53"/>
<path d="M1347.5 382.5 L1442.5 366.2" fill="none" stroke="#000" stroke-width="1.53" stroke-dasharray="34 3 5 3"/>
<path d="M1237.5 407.5 L1330 392.5 L1337.5 397.5 L1340 415" fill="none" stroke="#000" stroke-width="1.53"/>
<path d="M1240 410 L1245 455" fill="none" stroke="#000" stroke-width="1.53"/>
<path d="M1242.5 426.2 L1322.5 413.8" fill="none" stroke="#000" stroke-width="1.53"/>
<path d="M1320 397.5 L1330 442.5 L1242.5 458.8" fill="none" stroke="#000" stroke-width="1.53"/>
<circle cx="1265" cy="413.8" r="5" fill="none" stroke="#000" stroke-width="1.8"/>
<path d="M1280 405 L1290 403.8 L1293.8 407.5 L1298.8 402.5 L1300 413.8 L1292.5 413 L1290 416.2 L1281.2 416.2Z" fill="none" stroke="#000" stroke-width="2.12"/>
<path d="M1306.2 406.2 C1307.1 405.6 1309.6 402.3 1311.2 402.5 C1312.9 402.7 1315.4 406.7 1316.2 407.5" fill="none" stroke="#000" stroke-width="2.36"/>
<path d="M1307.5 433.8 C1308.1 432.9 1309.6 429.2 1311.2 428.8 C1312.9 428.3 1316.5 430.8 1317.5 431.2" fill="none" stroke="#000" stroke-width="2.36"/>
<path d="M1320 417.5 L1327.5 420 L1325 437.5" fill="none" stroke="#000" stroke-width="1.53"/>
<path d="M1257.5 430 L1265 440 L1260 450" fill="none" stroke="#000" stroke-width="1.53"/>
<path d="M1340 416.2 L1445 410 L1447.5 423 L1515 412.5" fill="none" stroke="#000" stroke-width="1.53"/>
<path d="M1342.5 445 L1365 437.5 L1375 425 L1445 413" fill="none" stroke="#000" stroke-width="1.53"/>
<path d="M1330 395 L1337.5 442.5" fill="none" stroke="#000" stroke-width="1.53"/>
<path d="M1162.5 422.5 L1182.5 420 L1183.8 442.5 L1167.5 447.5Z" fill="none" stroke="#000" stroke-width="1.53"/>
<path d="M1130 425 L1150 422.5 L1155 469" fill="none" stroke="#000" stroke-width="1.53"/>
<path d="M1167.5 450 L1176.2 448.8 L1177.5 465 L1168.8 466.2Z" fill="none" stroke="#000" stroke-width="2.12"/>
<path d="M1462.5 310 L1490 308.8 L1512.5 320 L1527.5 330 L1532 350" fill="none" stroke="#000" stroke-width="1.53"/>
<path d="M1480 330 L1490 342.5 L1515 337.5 L1510 325" fill="none" stroke="#000" stroke-width="1.53"/>
<path d="M1470 307.5 L1485 340 L1480 362.5" fill="none" stroke="#000" stroke-width="1.53"/>
<path d="M1462.5 312.5 L1476.2 325" fill="none" stroke="#000" stroke-width="1.53"/>
<path d="M1453.8 375 L1477.5 368.8 L1480 362.5 L1527.5 353.8 L1532 357.5 L1530 392.5 L1480 402.5 L1462.5 402.5Z" fill="none" stroke="#000" stroke-width="2.6"/>
<path d="M1483 365.5 L1525 358 L1522.5 387.5 L1485.5 395Z" fill="none" stroke="#000" stroke-width="2.36"/>
<path d="M1460 375 L1467.5 400" fill="none" stroke="#000" stroke-width="2.12"/>
<path d="M1466.2 373.8 L1473.8 398.8" fill="none" stroke="#000" stroke-width="2.12"/>
<path d="M1472.5 372 L1478.8 397.5" fill="none" stroke="#000" stroke-width="2.12"/>
<path d="M1487.5 368.8 L1520 362.5" fill="none" stroke="#000" stroke-width="3.54"/>
<path d="M1488.8 375 L1521.2 368.8" fill="none" stroke="#000" stroke-width="3.54"/>
<path d="M1490 381.2 L1520 376.2" fill="none" stroke="#000" stroke-width="3.54"/>
<path d="M1490 387.5 L1518.8 383" fill="none" stroke="#000" stroke-width="3.54"/>
<path d="M1497.5 377.5 L1495 390" fill="none" stroke="#000" stroke-width="3.54"/>
<path d="M1505 376.2 L1502.5 388.8" fill="none" stroke="#000" stroke-width="3.54"/>
<path d="M1512.5 375 L1510 387.5" fill="none" stroke="#000" stroke-width="3.54"/>
<path d="M1480 365 L1482.5 398.8" fill="none" stroke="#000" stroke-width="2.36"/>
<path d="M1490 469 L1493.8 463.8 L1515 460 L1517.5 469" fill="none" stroke="#000" stroke-width="2.6"/>
<path d="M885 405 L917.5 391.2" fill="none" stroke="#000" stroke-width="1.53"/>
<path d="M877.5 460 C875.4 461.2 868.1 464.2 865 467.5 C861.9 470.8 859.2 475.8 858.8 480 C858.3 484.2 857.7 488.8 862.5 492.5 C867.3 496.2 879.2 498.8 887.5 502.5 C895.8 506.2 904.2 511.2 912.5 515 C920.8 518.8 928.3 524 937.5 525 C946.7 526 955.4 523.1 967.5 521.2 C979.6 519.4 1002.9 515 1010 513.8" fill="none" stroke="#000" stroke-width="1.53" stroke-dasharray="34 3 5 3"/>
<path d="M942.5 411.2 L960 407.5" fill="none" stroke="#000" stroke-width="1.53"/>
<path d="M980 403.8 L1075 380" fill="none" stroke="#000" stroke-width="1.53"/>
<path d="M950 421.2 L1100 400 L1252 375" fill="none" stroke="#000" stroke-width="1.53" stroke-dasharray="34 3 5 3"/>
<path d="M957.5 426.2 L1175 395.5" fill="none" stroke="#000" stroke-width="1.53" stroke-dasharray="34 3 5 3"/>
<path d="M1000 450 L1150 425 L1230 411.2" fill="none" stroke="#000" stroke-width="1.53" stroke-dasharray="34 3 5 3"/>
<path d="M1012.5 452.5 L1050 445 L1140 426.2 L1152.5 427.5 L1153.8 437.5" fill="none" stroke="#000" stroke-width="1.53"/>
<path d="M1012.5 452.5 L1015 485 L1010 510" fill="none" stroke="#000" stroke-width="1.53"/>
<path d="M1010 510 L1015 500 L1070 487.5 L1075 490.5 L1077.5 483.8 L1150 478.8" fill="none" stroke="#000" stroke-width="1.53"/>
<path d="M1140 427.5 L1147.5 455 L1140 472.5 L1132.5 478.8 L1127.5 475" fill="none" stroke="#000" stroke-width="1.53"/>
<path d="M1050 446.2 L1122.5 470" fill="none" stroke="#000" stroke-width="1.53"/>
<path d="M1015 505 L1075 492.5 L1160 480" fill="none" stroke="#000" stroke-width="1.53"/>
<path d="M1007.5 513.8 L1162.5 483.8 L1252 465" fill="none" stroke="#000" stroke-width="1.53" stroke-dasharray="34 3 5 3"/>
<path d="M1162.5 425 L1180 422.5 L1183.8 442.5 L1167.5 447.5Z" fill="none" stroke="#000" stroke-width="1.53"/>
<path d="M1167.5 450 L1175 452.5 L1173.8 465 L1168.8 467.5Z" fill="none" stroke="#000" stroke-width="2.12"/>
<path d="M1160 455 L1166.2 477.5 L1175 481.2" fill="none" stroke="#000" stroke-width="1.53"/>
<path d="M1225 380 L1232.5 405 L1252 402.5" fill="none" stroke="#000" stroke-width="1.53"/>
<path d="M1235 410 L1240 450 L1252 453.8" fill="none" stroke="#000" stroke-width="1.53"/>
<path d="M921.2 476.2 L945 468.8 L950 462.5 L1000 452.5 L1007.5 456.2 L1010 490 L1000 496.2 L952.5 503.8 L931.2 505Z" fill="none" stroke="#000" stroke-width="2.6"/>
<path d="M953 466.2 L1000 456.8 L1003 488 L956.2 497.5Z" fill="none" stroke="#000" stroke-width="2.36"/>
<path d="M927.5 476.2 L936.2 503.8" fill="none" stroke="#000" stroke-width="2.12"/>
<path d="M933.8 474.5 L942.5 502.5" fill="none" stroke="#000" stroke-width="2.12"/>
<path d="M940 472.5 L948.8 501.2" fill="none" stroke="#000" stroke-width="2.12"/>
<path d="M957.5 468.8 L996.2 461.2" fill="none" stroke="#000" stroke-width="3.54"/>
<path d="M958.8 475 L997.5 467.5" fill="none" stroke="#000" stroke-width="3.54"/>
<path d="M960 481.2 L997.5 474.5" fill="none" stroke="#000" stroke-width="3.54"/>
<path d="M960 487.5 L996.2 482" fill="none" stroke="#000" stroke-width="3.54"/>
<path d="M967.5 476.2 L965 490" fill="none" stroke="#000" stroke-width="3.54"/>
<path d="M975 475 L972.5 488.8" fill="none" stroke="#000" stroke-width="3.54"/>
<path d="M982.5 473.8 L980 487.5" fill="none" stroke="#000" stroke-width="3.54"/>
<path d="M990 472.5 L987.5 486.2" fill="none" stroke="#000" stroke-width="3.54"/>
<path d="M950 463.8 L953 502.5" fill="none" stroke="#000" stroke-width="2.36"/>
<path d="M936.2 573.8 L941.2 567.5 L980 558.8 L985 562.5 L988.8 580 L985 585.5 L945 592.5 L940 590Z" fill="none" stroke="#000" stroke-width="2.6"/>
<path d="M942.5 573 L975 565.5 L977.5 580 L945.5 587.5Z" fill="none" stroke="#000" stroke-width="2.95"/>
<path d="M970 566.2 L973.8 582.5" fill="none" stroke="#000" stroke-width="2.12"/>
<path d="M975 565 L978.8 581.2" fill="none" stroke="#000" stroke-width="2.12"/>
<path d="M980 563.8 L983.8 580" fill="none" stroke="#000" stroke-width="2.12"/>
<path d="M928.8 583 L933.8 595.5" fill="none" stroke="#000" stroke-width="2.12"/>
<path d="M932.5 582 L937.5 594.5" fill="none" stroke="#000" stroke-width="2.12"/>
<path d="M925 583.8 L936.2 580 L941.2 592.5 L930 597.5Z" fill="none" stroke="#000" stroke-width="2.36"/>
<path d="M925 583.8 C920 584.8 903.8 586.9 895 590 C886.2 593.1 877.1 597.9 872.5 602.5 C867.9 607.1 869.4 612.5 867.5 617.5 C865.6 622.5 862.6 627.1 861.2 632.5 C859.9 637.9 859.8 647.1 859.5 650" fill="none" stroke="#000" stroke-width="2.6"/>
<path d="M985 586.2 C973.3 591 930.8 608.3 915 615 C899.2 621.7 895 623.5 890 626.2 C885 629 885.4 629.4 885 631.2 C884.6 633.1 886 636.9 887.5 637.5 C889 638.1 891.7 637.9 893.8 635 C895.8 632.1 899 622.5 900 620" fill="none" stroke="#000" stroke-width="2.6"/>
<path d="M896.2 591.2 C895.8 593.5 893.1 601 893.8 605 C894.4 609 897.7 612.9 900 615 C902.3 617.1 906.2 617.1 907.5 617.5" fill="none" stroke="#000" stroke-width="2.12"/>
<path d="M903.8 603.8 L927.5 597.5" fill="none" stroke="#000" stroke-width="2.12"/>
<path d="M907.5 617.5 L930 597.5" fill="none" stroke="#000" stroke-width="2.12"/>
<path d="M893.8 635 L895.5 650" fill="none" stroke="#000" stroke-width="2.6"/>
<path d="M859.5 650 C862.1 650.9 869 655.5 875 655.5 C881 655.5 892.1 650.9 895.5 650" fill="none" stroke="#000" stroke-width="2.95"/>
<path d="M858.2 656.2 C861 657.2 868.4 661.8 874.5 661.8 C880.6 661.8 891.6 657.2 895 656.2" fill="none" stroke="#000" stroke-width="2.95"/>
<path d="M857 662.5 C859.8 663.4 867.8 668 874 668 C880.2 668 891.1 663.4 894.5 662.5" fill="none" stroke="#000" stroke-width="2.95"/>
<path d="M855.8 668.8 C858.7 669.7 867.1 674.2 873.5 674.2 C879.9 674.2 890.6 669.7 894 668.8" fill="none" stroke="#000" stroke-width="2.95"/>
<path d="M854.5 675 C857.6 675.9 866.5 680.5 873 680.5 C879.5 680.5 890.1 675.9 893.5 675" fill="none" stroke="#000" stroke-width="2.95"/>
<path d="M859.5 650 L853.8 677.5 L857.5 683.8 L887.5 686.2 L893.8 680 L895.5 650" fill="none" stroke="#000" stroke-width="2.6"/>
<path d="M1469.2 464.2 L1474.2 458 L1513 449.2 L1518 453 L1521.8 470.5 L1518 476 L1478 483 L1473 480.5Z" fill="none" stroke="#000" stroke-width="2.6"/>
<path d="M1475.5 463.5 L1508 456 L1510.5 470.5 L1478.5 478Z" fill="none" stroke="#000" stroke-width="2.95"/>
<path d="M1503 456.8 L1506.8 473" fill="none" stroke="#000" stroke-width="2.12"/>
<path d="M1508 455.5 L1511.8 471.8" fill="none" stroke="#000" stroke-width="2.12"/>
<path d="M1513 454.2 L1516.8 470.5" fill="none" stroke="#000" stroke-width="2.12"/>
<path d="M1461.8 473.5 L1466.8 486" fill="none" stroke="#000" stroke-width="2.12"/>
<path d="M1465.5 472.5 L1470.5 485" fill="none" stroke="#000" stroke-width="2.12"/>
<path d="M1458 474.2 L1469.2 470.5 L1474.2 483 L1463 488Z" fill="none" stroke="#000" stroke-width="2.36"/>
<path d="M1458 474.2 C1453 475.3 1436.8 477.4 1428 480.5 C1419.2 483.6 1410.1 488.4 1405.5 493 C1400.9 497.6 1402.4 503 1400.5 508 C1398.6 513 1395.6 517.6 1394.2 523 C1392.9 528.4 1392.8 537.6 1392.5 540.5" fill="none" stroke="#000" stroke-width="2.6"/>
<path d="M1518 476.8 C1506.3 481.5 1463.8 498.8 1448 505.5 C1432.2 512.2 1428 514 1423 516.8 C1418 519.5 1418.4 519.9 1418 521.8 C1417.6 523.6 1419 527.4 1420.5 528 C1422 528.6 1424.7 528.4 1426.8 525.5 C1428.8 522.6 1432 513 1433 510.5" fill="none" stroke="#000" stroke-width="2.6"/>
<path d="M1429.2 481.8 C1428.8 484 1426.1 491.5 1426.8 495.5 C1427.4 499.5 1430.7 503.4 1433 505.5 C1435.3 507.6 1439.2 507.6 1440.5 508" fill="none" stroke="#000" stroke-width="2.12"/>
<path d="M1436.8 494.2 L1460.5 488" fill="none" stroke="#000" stroke-width="2.12"/>
<path d="M1440.5 508 L1463 488" fill="none" stroke="#000" stroke-width="2.12"/>
<path d="M1426.8 525.5 L1428.5 540.5" fill="none" stroke="#000" stroke-width="2.6"/>
<path d="M1392.5 540.5 C1395.1 541.4 1402 546 1408 546 C1414 546 1425.1 541.4 1428.5 540.5" fill="none" stroke="#000" stroke-width="2.95"/>
<path d="M1391.2 546.8 C1394 547.7 1401.4 552.2 1407.5 552.2 C1413.6 552.2 1424.6 547.7 1428 546.8" fill="none" stroke="#000" stroke-width="2.95"/>
<path d="M1390 553 C1392.8 553.9 1400.8 558.5 1407 558.5 C1413.2 558.5 1424.1 553.9 1427.5 553" fill="none" stroke="#000" stroke-width="2.95"/>
<path d="M1388.8 559.2 C1391.7 560.2 1400.1 564.8 1406.5 564.8 C1412.9 564.8 1423.6 560.2 1427 559.2" fill="none" stroke="#000" stroke-width="2.95"/>
<path d="M1387.5 565.5 C1390.6 566.4 1399.5 571 1406 571 C1412.5 571 1423.1 566.4 1426.5 565.5" fill="none" stroke="#000" stroke-width="2.95"/>
<path d="M1392.5 540.5 L1386.8 568 L1390.5 574.2 L1420.5 576.8 L1426.8 570.5 L1428.5 540.5" fill="none" stroke="#000" stroke-width="2.6"/>
<path d="M885.4 399.8 C890.5 398.2 901.5 395.1 916 390.3 C930.5 385.6 948.2 378.8 972.6 371.5 C996.9 364.2 1031.5 353.8 1062.1 346.5 C1092.8 339.2 1113.2 333.9 1156.4 327.6 C1199.6 321.4 1270.3 312.9 1321.4 308.8 C1372.5 304.7 1439.2 304.1 1462.8 303.1" fill="none" stroke="#000" stroke-width="1.53" stroke-dasharray="34 3 5 3"/>
<path d="M949 421.9 L1114 390.3 L1227.1 372.9" fill="none" stroke="#000" stroke-width="1.53" stroke-dasharray="34 3 5 3"/>
<path d="M991.4 403.1 L1114 374.8" fill="none" stroke="#000" stroke-width="1.53"/>
<path d="M1144.2 627.5 L1147.5 622.5 L1225 607.5 L1233.3 609.2 L1235 633.3 L1230 638.3 L1175 649.2 L1170 648.3 L1168.3 640 L1146.7 643.3 L1144.2 638.3Z" fill="none" stroke="#000" stroke-width="2.6"/>
<path d="M1167.5 625.8 L1171.7 621.7 L1226.7 610.8 L1231.7 613.3 L1233.3 632.5 L1229.2 636.7 L1175.8 647.5 L1170.8 645.8Z" fill="none" stroke="#000" stroke-width="2.36"/>
<path d="M1179.2 630 L1181.7 627.5 L1223.3 619.2 L1225.8 621.7 L1226.7 631.7 L1182.5 640.8 L1180 640Z" fill="none" stroke="#000" stroke-width="2.95"/>
<path d="M1185 629.2 L1218.3 623.3" fill="none" stroke="#000" stroke-width="1.89"/>
<path d="M1196.7 627.5 L1220 628.7" fill="none" stroke="#000" stroke-width="1.89"/>
<path d="M1234.2 609.2 L1238.3 610 L1239.2 615.8 L1235 616.7Z" fill="#000" stroke="#000" stroke-width="2.95"/>
<circle cx="1162.5" cy="643.3" r="3.7" fill="none" stroke="#000" stroke-width="2.2"/>
<path d="M1150 625 L1163.3 625" fill="none" stroke="#000" stroke-width="1.89"/>
<path d="M1155.8 663.3 L1158.3 660 L1310 625.8 L1319.2 627.5 L1324.2 635 L1324.2 650 L1318.3 656.7 L1168.3 691.7 L1161.7 690 L1157.5 680Z" fill="none" stroke="#000" stroke-width="2.6"/>
<path d="M1164.2 666.7 L1167.5 664.2 L1308.3 631.7 L1315 633.3 L1316.7 638.3 L1316.7 650 L1311.7 654.2 L1170.8 686.7 L1166.7 685Z" fill="none" stroke="#000" stroke-width="2.36"/>
<path d="M1170 667 L1226.7 653.7 L1228.3 663.3 L1225 666.7 L1188.3 675.8 L1181.7 674.7" fill="none" stroke="#000" stroke-width="2.36"/>
<path d="M1227.5 653.3 L1230 665" fill="none" stroke="#000" stroke-width="2.36"/>
<path d="M1250.6 652.7 C1249.9 652.6 1247.7 651.7 1246.7 652.3 C1245.7 652.8 1244.5 654.9 1244.5 656.2 C1244.6 657.5 1246 659.6 1247.1 660.1 C1248.2 660.6 1250.4 659.3 1251 659.2" fill="none" stroke="#000" stroke-width="2.6"/>
<path d="M1312.1 639.9 C1311.4 639.8 1309.2 638.9 1308.2 639.4 C1307.2 640 1306 642 1306 643.3 C1306.1 644.6 1307.5 646.7 1308.6 647.2 C1309.7 647.7 1311.9 646.5 1312.5 646.4" fill="none" stroke="#000" stroke-width="2.6"/>
<path d="M1257.5 650 L1260 646.7 L1290 640 L1293.3 642.5 L1292.5 650 L1290 652.5 L1260.8 659.2 L1258 656.7Z" fill="none" stroke="#000" stroke-width="2.6"/>
<path d="M1195 676.7 L1313.3 654.2" fill="none" stroke="#000" stroke-width="1.89"/>
<path d="M1195 680 L1303.3 659.2" fill="none" stroke="#000" stroke-width="1.89"/>
<path d="M1258.3 666.7 L1306.7 656.7" fill="none" stroke="#000" stroke-width="1.77"/>
<path d="M1170.8 675 L1175 680.8 L1180 677.5" fill="none" stroke="#000" stroke-width="3.54"/>
<path d="M1319.2 630 L1320.8 651.7" fill="none" stroke="#000" stroke-width="1.89"/>
<path d="M1297.5 672.5 L1313.3 680.8" fill="none" stroke="#000" stroke-width="5.9" stroke-dasharray="3 2"/>
<ellipse cx="1318" cy="679.2" rx="5.3" ry="6.3" fill="none" stroke="#000" stroke-width="2.5" transform="rotate(20 1318 679.2)"/>
<path d="M1317.5 676.7 C1317.8 677.2 1319.2 678.9 1319.2 680 C1319.1 681.1 1317.4 682.5 1317 683" fill="none" stroke="#000" stroke-width="2.36"/>
<path d="M1343.7 681.3 L1348.7 676.3 L1412 666.3 L1417 669.7 L1417 684.7 L1412 689.7 L1348.7 701.3 L1343.7 698Z" fill="none" stroke="#000" stroke-width="2.6"/>
<path d="M1353.7 684.7 L1408.7 674.7 L1410.3 684.7 L1355.3 694.7Z" fill="none" stroke="#000" stroke-width="2.36"/>
<path d="M1346 683 L1346.7 699" fill="none" stroke="#000" stroke-width="3.54"/>
<path d="M1350.3 698 L1410.3 687" fill="none" stroke="#000" stroke-width="1.77"/>
<text x="1382" y="687" font-size="7.5" font-weight="bold" text-anchor="middle" transform="rotate(-9.5 1382 687)" textLength="38" lengthAdjust="spacingAndGlyphs">TOYOTA</text>
<circle cx="1285.3" cy="514.7" r="8.7" fill="none" stroke="#000" stroke-width="2.5"/>
<circle cx="1288" cy="515.7" r="3.3" fill="none" stroke="#000" stroke-width="2"/>
<path d="M1278 509 C1277.7 510.2 1275.6 514.1 1276 516.3 C1276.4 518.6 1279.6 521.3 1280.3 522.3" fill="none" stroke="#000" stroke-width="3.54"/>
<path d="M1280.3 523.7 L1283.7 529.7 L1290.3 523.7" fill="none" stroke="#000" stroke-width="2.36"/>
<ellipse cx="1334.7" cy="508" rx="7.3" ry="8" fill="none" stroke="#000" stroke-width="2.2" transform="rotate(0 1334.7 508)"/>
<path d="M1328 503.7 C1327.7 504.7 1325.6 507.8 1326 509.7 C1326.4 511.5 1329.6 513.8 1330.3 514.7" fill="none" stroke="#000" stroke-width="2.95"/>
<path d="M1160 452.5 L1167.5 476.2 L1272.5 457 L1320 448.8" fill="none" stroke="#000" stroke-width="1.53"/>
<path d="M1165 468 L1270 451.8 L1316.2 445.5" fill="none" stroke="#000" stroke-width="1.53"/>
<path d="M1130 490 L1162.5 483 L1272.5 462.5 L1330 452.5" fill="none" stroke="#000" stroke-width="1.53" stroke-dasharray="34 3 5 3"/>
<path d="M1170 473 L1270 455" fill="none" stroke="#000" stroke-width="1.53"/>
<path d="M594.2 605 L598.3 602.5 L653.3 593.3 L666.7 590.8 L695 597.5 L698.3 603.3 L710 633.3 L706.7 640 L686.7 648.3 L684.2 646.7 L689.2 639.2 L653.3 621.7 L650.8 623.3 L669.2 642.5 L663.3 650 L643.3 658.3 L640 656.7 L615 640.8 L608.3 637.5 L603.3 633.3Z" fill="none" stroke="#000" stroke-width="2.6"/>
<path d="M601.7 607.5 L618.3 614.2 L693.3 598.3" fill="none" stroke="#000" stroke-width="2.36"/>
<path d="M605.8 605 L610 610.3" fill="none" stroke="#000" stroke-width="2.12"/>
<path d="M630 619.2 L650.8 645.8 L645.8 654.2" fill="none" stroke="#000" stroke-width="2.12"/>
<path d="M650.8 645.8 L666.7 643.3" fill="none" stroke="#000" stroke-width="2.12"/>
<path d="M653.3 593.3 L663.3 600 L686.7 596.7" fill="none" stroke="#000" stroke-width="2.12"/>
<path d="M660 594.2 L670 596.7 L676.7 593.7" fill="none" stroke="#000" stroke-width="2.95"/>
<circle cx="655" cy="648.7" r="1.3" fill="#000" stroke="#000" stroke-width="2"/>
<circle cx="699.2" cy="640.8" r="1.3" fill="#000" stroke="#000" stroke-width="2"/>
<path d="M693.3 636.7 L706.7 633.3" fill="none" stroke="#000" stroke-width="1.89"/>
<path d="M313.8 650 L320 645 L335 643.8 L340 647.5 L347.5 642 L348 647 L336.2 652.5 L332.5 658.8 L320 660.5 L315 656.2Z" fill="none" stroke="#000" stroke-width="2.95"/>
<circle cx="346.2" cy="643.8" r="2.5" fill="none" stroke="#000" stroke-width="2.2"/>
<path d="M320 648.8 L330 647.5 L328.8 655 L321.2 655.5Z" fill="none" stroke="#000" stroke-width="2.12"/>
<path d="M328.8 668.8 L342.5 683" fill="none" stroke="#000" stroke-width="5.9" stroke-dasharray="3 2"/>
<ellipse cx="341.2" cy="682" rx="5" ry="3" fill="none" stroke="#000" stroke-width="2.5" transform="rotate(40 341.2 682)"/>
<path d="M400 666.2 L407.5 673.8 L417.5 677.5 L422.5 673 L418.8 666.2 L410 664.5Z" fill="none" stroke="#000" stroke-width="2.6"/>
<ellipse cx="414.5" cy="671.2" rx="7.5" ry="5.5" fill="none" stroke="#000" stroke-width="2" transform="rotate(20 414.5 671.2)"/>
<path d="M421.2 630.5 L438.8 629.5 L440 640 L425 642Z" fill="none" stroke="#000" stroke-width="2.95"/>
<circle cx="432.5" cy="637.5" r="3.5" fill="none" stroke="#000" stroke-width="2"/>
<path d="M425 632.5 L436.2 632" fill="none" stroke="#000" stroke-width="1.89"/>
<circle cx="387.5" cy="610" r="5.5" fill="none" stroke="#000" stroke-width="2.2"/>
<path d="M390 608 C389.4 608 387 607.5 386.2 608 C385.5 608.5 385 610.5 385.5 611.2 C386 612 388.8 612.3 389.5 612.5" fill="none" stroke="#000" stroke-width="2.12"/>
<path d="M260 843.3 L265 837.5 L396.7 811.7 L405 812.5 L408.3 818.3 L411.7 838.3 L408.3 858.3 L403.3 871.7 L396.7 876.7 L260 906.7 L255.8 905 L255 900 L261.7 871.7Z" fill="none" stroke="#000" stroke-width="2.71"/>
<path d="M350 825 L400 815" fill="none" stroke="#000" stroke-width="1.89"/>
<path d="M315 840.3 L318.3 837.5 L358.3 830.8 L360.8 833.3 L361.7 845" fill="none" stroke="#000" stroke-width="2.36"/>
<path d="M315 840.8 L316.7 861.7 L320 864.2 L353.3 854.2 L357.5 850 L356.7 838.3" fill="none" stroke="#000" stroke-width="2.6"/>
<path d="M339 839.9 C337.9 839.7 334.6 838.1 332.6 839.1 C330.6 840.1 327.3 843.4 327 845.9 C326.7 848.3 329.1 852.7 331 853.9 C332.9 855.1 336.6 854 338.2 853.1 C339.8 852.1 340.2 849.1 340.6 848.3" fill="none" stroke="#000" stroke-width="2.95"/>
<path d="M325 858.7 L340 856" fill="none" stroke="#000" stroke-width="1.89"/>
<path d="M241.7 875 L260 872.5 L261.7 878.3 L250 883.3 L259.2 882.5 L260 886.7 L246.7 888.3 L241.7 881.7Z" fill="none" stroke="#000" stroke-width="2.95"/>
<path d="M260 780.8 L270 776.7 L281.7 776.7 L283.3 783.3 L276.7 786.7 L275.8 795 L268.3 796.7 L260 793.3Z" fill="none" stroke="#000" stroke-width="3.54"/>
<path d="M265 785 L273.3 782.5 L272.5 790 L265.8 790.8Z" fill="none" stroke="#000" stroke-width="2.36"/>
<path d="M373.3 761.7 L385 755 L393.3 757.5 L394.2 763.3 L389.2 768.3 L388.3 776.7 L382.5 778.3 L375.8 773.3Z" fill="none" stroke="#000" stroke-width="2.95"/>
<ellipse cx="384.2" cy="765.8" rx="2.3" ry="6.3" fill="none" stroke="#000" stroke-width="2" transform="rotate(15 384.2 765.8)"/>
<path d="M341.7 936.7 L348.3 933.3 L390 926.7 L398.3 931.7 L403.3 943.3 L391.7 948.3 L390 953.3 L346.7 961.7 L340.7 958.3Z" fill="none" stroke="#000" stroke-width="2.71"/>
<path d="M346.7 925 L356.7 923.3 L360 930 L348.3 932.3Z" fill="none" stroke="#000" stroke-width="2.6"/>
<path d="M348.3 940 C349.1 941.4 351.7 945.3 352.7 948.3 C353.6 951.4 353.8 956.7 354 958.3" fill="none" stroke="#000" stroke-width="2.12"/>
<path d="M346 941.7 C346.6 943.2 348.7 948.1 349.3 951 C350 953.9 349.9 957.7 350 959" fill="none" stroke="#000" stroke-width="2.12"/>
<path d="M348.3 955.7 L390 948.3" fill="none" stroke="#000" stroke-width="1.89"/>
<path d="M576.8 915.8 L581 910.8 L711 885.8 L719.3 887.5 L723.5 895 L726 913.3 L722.7 933.3 L717.7 945 L711 950.8 L577.7 977.5 L572.7 975.8 L581 943.3Z" fill="none" stroke="#000" stroke-width="2.71"/>
<path d="M623.5 906.7 L714.3 889.2" fill="none" stroke="#000" stroke-width="1.89"/>
<path d="M630.2 914.2 L633.5 911.7 L672.7 905 L675.2 908.3 L675.7 914.2" fill="none" stroke="#000" stroke-width="2.36"/>
<path d="M630.2 914.2 L632.7 938.3 L636 939.2 L671 927.5 L673.5 924.2 L672.3 906.7" fill="none" stroke="#000" stroke-width="2.6"/>
<path d="M654.5 913.2 C653.6 913.1 650.6 911.6 648.9 912.5 C647.1 913.4 644.2 916.3 644 918.5 C643.8 920.6 645.9 924.4 647.5 925.5 C649.1 926.5 652.4 925.6 653.8 924.8 C655.2 923.9 655.5 921.3 655.9 920.6" fill="none" stroke="#000" stroke-width="2.95"/>
<path d="M639.3 933.3 L656 930.8" fill="none" stroke="#000" stroke-width="1.89"/>
<path d="M588.5 941.7 L623.5 935.8" fill="none" stroke="#000" stroke-width="1.89"/>
<path d="M681.8 924.2 L713.5 918.3" fill="none" stroke="#000" stroke-width="1.89"/>
<path d="M557.7 948.3 L562.7 945 L569.3 948.3 L577.7 945.8 L580.2 949.2 L569.3 955 L576 956.7 L574.3 973.3 L569.3 971.7 L566 960 L561 956.7Z" fill="none" stroke="#000" stroke-width="2.95"/>
<path d="M569.3 956.7 L571.8 970" fill="none" stroke="#000" stroke-width="3.54"/>
<ellipse cx="763.5" cy="955" rx="8.7" ry="11.3" fill="none" stroke="#000" stroke-width="2.5" transform="rotate(15 763.5 955)"/>
<path d="M738.5 936.7 L742.7 934.2 L759.3 940 L771 946.7" fill="none" stroke="#000" stroke-width="2.95"/>
<path d="M737.7 940 L742.7 953.3 L752.7 960 L758.5 966.7" fill="none" stroke="#000" stroke-width="2.95"/>
<path d="M738.5 936.7 L737.7 940" fill="none" stroke="#000" stroke-width="2.95"/>
<path d="M741 940 L752.7 944.2 L751 950 L742.7 948.3Z" fill="none" stroke="#000" stroke-width="4.72"/>
<path d="M738.5 937.5 L741.8 949.2 L751 956.7" fill="none" stroke="#000" stroke-width="4.72"/>
<circle cx="734" cy="953.3" r="3.7" fill="none" stroke="#000" stroke-width="3.5"/>
<path d="M761 953.3 L761.8 960 L766.8 959.2 L766 952.5" fill="none" stroke="#000" stroke-width="2.36"/>
<path d="M741 860 C741.3 858.8 743.5 856.4 746 855.8 C748.5 855.3 753.6 855.8 756 856.7 C758.4 857.5 758.5 860.3 760.2 860.8 C761.8 861.4 764.8 861.2 766 860 C767.2 858.8 766.3 854.9 767.7 853.3 C769.1 851.8 771.8 851 774.3 850.8 C776.8 850.7 781 851.7 782.7 852.5 C784.3 853.3 785.2 855 784.3 855.8 C783.5 856.7 779.1 856 777.7 857.5 C776.3 859 777.1 863.3 776 865 C774.9 866.7 773.5 866.8 771 867.5 C768.5 868.2 763.8 869.7 761 869.2 C758.2 868.6 757.1 865.1 754.3 864.2 C751.6 863.2 746.6 864 744.3 863.3 C742.1 862.6 740.7 861.2 741 860Z" fill="none" stroke="#000" stroke-width="2.95"/>
<ellipse cx="748" cy="859.7" rx="3.7" ry="1.7" fill="none" stroke="#000" stroke-width="2" transform="rotate(0 748 859.7)"/>
<circle cx="781" cy="854.2" r="1.3" fill="none" stroke="#000" stroke-width="2"/>
<path d="M748.5 879.2 L748.5 893" fill="none" stroke="#000" stroke-width="5.9" stroke-dasharray="3 2"/>
<path d="M742.7 893.3 L754.3 893.3 L753.5 898.3 L743.5 898.7Z" fill="none" stroke="#000" stroke-width="2.95"/>
<path d="M1183.7 791.7 L1205.3 788.3 L1207 785 L1268.7 775 L1273.7 768.3 L1285.3 771.7 L1290.3 785 L1288.7 798.3 L1283.7 805 L1193.7 825 L1188.7 820Z" fill="none" stroke="#000" stroke-width="2.71"/>
<path d="M1207 790 L1208.7 820" fill="none" stroke="#000" stroke-width="2.36"/>
<path d="M1212 795 L1272 781 L1280.3 785 L1282 800 L1218.7 813.3 L1213.7 810Z" fill="none" stroke="#000" stroke-width="2.6"/>
<path d="M1215.3 806.7 L1275.3 793.3" fill="none" stroke="#000" stroke-width="3.54"/>
<path d="M1220.3 795 L1219 806.7" fill="none" stroke="#000" stroke-width="3.54"/>
<path d="M1230.3 793 L1229 804.7" fill="none" stroke="#000" stroke-width="3.54"/>
<path d="M1240.3 791 L1239 802.7" fill="none" stroke="#000" stroke-width="3.54"/>
<path d="M1250.3 789 L1249 800.7" fill="none" stroke="#000" stroke-width="3.54"/>
<path d="M1260.3 787 L1259 798.7" fill="none" stroke="#000" stroke-width="3.54"/>
<path d="M1270.3 785 L1269 796.7" fill="none" stroke="#000" stroke-width="3.54"/>
<path d="M1195.3 798.3 L1200.3 816.7" fill="none" stroke="#000" stroke-width="2.36"/>
<path d="M1218.7 816.7 L1238.7 812.7" fill="none" stroke="#000" stroke-width="1.89"/>
<text x="42.7" y="24" font-size="19" font-weight="bold" fill="#000" textLength="31.3" lengthAdjust="spacingAndGlyphs">WG</text>
<path d="M39.3 28.7 L456.7 28.7 L456.7 198.3 L39.3 198.3Z" fill="none" stroke="#000" stroke-width="2.12"/>
<text x="70" y="50" font-size="18" font-weight="bold" fill="#000" textLength="100" lengthAdjust="spacingAndGlyphs">90179-06070</text>
<text x="343.3" y="183.3" font-size="20.5" font-weight="bold" fill="#000" textLength="55" lengthAdjust="spacingAndGlyphs">55404</text>
<text x="278.3" y="251.7" font-size="20.5" font-weight="bold" fill="#000" textLength="68.3" lengthAdjust="spacingAndGlyphs">55349A</text>
<text x="85" y="298.3" font-size="18" font-weight="bold" fill="#000" textLength="99.3" lengthAdjust="spacingAndGlyphs">90179-06070</text>
<text x="250" y="301.7" font-size="20.5" font-weight="bold" fill="#000" textLength="54.3" lengthAdjust="spacingAndGlyphs">55404</text>
<path d="M120 52.7 L120 76" fill="none" stroke="#000" stroke-width="2.36"/>
<path d="M372.7 138.3 L372.7 169.3" fill="none" stroke="#000" stroke-width="2.36"/>
<path d="M350 245 L375 245" fill="none" stroke="#000" stroke-width="1.77"/>
<path d="M376 240.7 L389.3 240 L390 248 L376.7 249Z" fill="none" stroke="#000" stroke-width="2.36"/>
<path d="M134.3 301 L134.3 325" fill="none" stroke="#000" stroke-width="2.36"/>
<path d="M278.3 305 L278.3 335" fill="none" stroke="#000" stroke-width="2.36"/>
<path d="M383.5 253 L383.5 444.5 L414 444.5" fill="none" stroke="#000" stroke-width="1.89" stroke-dasharray="9 4"/>
<text x="656.7" y="76.7" font-size="20.5" font-weight="bold" fill="#000" textLength="53.7" lengthAdjust="spacingAndGlyphs">55408</text>
<text x="797.7" y="203.3" font-size="20.5" font-weight="bold" fill="#000" textLength="69" lengthAdjust="spacingAndGlyphs">55408C</text>
<text x="536.7" y="220.7" font-size="20.5" font-weight="bold" fill="#000" textLength="55.3" lengthAdjust="spacingAndGlyphs">55403</text>
<text x="756.7" y="277.7" font-size="18" font-weight="bold" fill="#000" textLength="98.7" lengthAdjust="spacingAndGlyphs">93560-55014</text>
<text x="780" y="336" font-size="18" font-weight="bold" fill="#000" textLength="98.3" lengthAdjust="spacingAndGlyphs">93560-55014</text>
<path d="M684.3 80 L684.3 126.7" fill="none" stroke="#000" stroke-width="2.36"/>
<path d="M566 224 L566 250" fill="none" stroke="#000" stroke-width="2.36"/>
<path d="M766 197.3 L797 197.3" fill="none" stroke="#000" stroke-width="2.36"/>
<circle cx="808.3" cy="230" r="10.7" fill="none" stroke="#000" stroke-width="2"/>
<text x="808.3" y="236.7" font-size="18.5" font-weight="bold" text-anchor="middle">S</text>
<path d="M773.3 217.3 L797 226.7" fill="none" stroke="#000" stroke-width="1.89" stroke-dasharray="8 4"/>
<path d="M806 242 L806 261.7" fill="none" stroke="#000" stroke-width="2.36"/>
<circle cx="743.3" cy="330" r="10.7" fill="none" stroke="#000" stroke-width="2"/>
<text x="743.3" y="336.7" font-size="18.5" font-weight="bold" text-anchor="middle">S</text>
<path d="M704.3 315 L732.7 326.7" fill="none" stroke="#000" stroke-width="1.89" stroke-dasharray="8 3 2 3"/>
<path d="M755.3 330 L775.3 330" fill="none" stroke="#000" stroke-width="2.36"/>
<text x="1128.7" y="239.3" font-size="20.5" font-weight="bold" fill="#000" textLength="55" lengthAdjust="spacingAndGlyphs">55533</text>
<text x="1360.3" y="218.3" font-size="20.5" font-weight="bold" fill="#000" textLength="54" lengthAdjust="spacingAndGlyphs">55537</text>
<text x="1340.3" y="266" font-size="20.5" font-weight="bold" fill="#000" textLength="54.3" lengthAdjust="spacingAndGlyphs">55536</text>
<path d="M1186.3 232.3 L1222.7 232.3" fill="none" stroke="#000" stroke-width="2.36"/>
<path d="M1327 212.7 L1356 212.7" fill="none" stroke="#000" stroke-width="2.36"/>
<path d="M1302 258.3 L1338 258.3" fill="none" stroke="#000" stroke-width="2.36"/>
<path d="M1260.3 238.3 L1260.3 358.3" fill="none" stroke="#000" stroke-width="1.89" stroke-dasharray="9 4"/>
<path d="M1294.7 271.7 L1294.7 358.3" fill="none" stroke="#000" stroke-width="1.89" stroke-dasharray="9 4"/>
<path d="M1318 233.3 L1318 353.3" fill="none" stroke="#000" stroke-width="1.89" stroke-dasharray="9 4"/>
<text x="56.7" y="420.7" font-size="18" font-weight="bold" fill="#000" textLength="99" lengthAdjust="spacingAndGlyphs">93385-16016</text>
<text x="306.7" y="422" font-size="20.5" font-weight="bold" fill="#000" textLength="54.3" lengthAdjust="spacingAndGlyphs">55909</text>
<text x="63.3" y="545.7" font-size="20.5" font-weight="bold" fill="#000" textLength="53.3" lengthAdjust="spacingAndGlyphs">55301</text>
<text x="53.3" y="664.7" font-size="18" font-weight="bold" fill="#000" textLength="99.3" lengthAdjust="spacingAndGlyphs">91651-40820</text>
<text x="239" y="657" font-size="20.5" font-weight="bold" fill="#000" textLength="53.3" lengthAdjust="spacingAndGlyphs">55517</text>
<text x="212.7" y="690.3" font-size="18" font-weight="bold" fill="#000" textLength="99.7" lengthAdjust="spacingAndGlyphs">90159-50068</text>
<text x="382.7" y="720.7" font-size="20.5" font-weight="bold" fill="#000" textLength="67.3" lengthAdjust="spacingAndGlyphs">55503B</text>
<text x="417.7" y="604.7" font-size="18" font-weight="bold" fill="#000" textLength="100" lengthAdjust="spacingAndGlyphs">90950-01065</text>
<text x="417.7" y="621.7" font-size="18" font-weight="bold" fill="#000" textLength="100" lengthAdjust="spacingAndGlyphs">90950-01006</text>
<text x="525" y="604.7" font-size="18" font-weight="bold" fill="#000" textLength="48.3" lengthAdjust="spacingAndGlyphs">(<tspan font-style="italic">ϕ</tspan>=10)</text>
<text x="525" y="621.7" font-size="18" font-weight="bold" fill="#000" textLength="48.3" lengthAdjust="spacingAndGlyphs">(<tspan font-style="italic">ϕ</tspan>=14)</text>
<text x="468.3" y="647" font-size="18" font-weight="bold" fill="#000" textLength="101" lengthAdjust="spacingAndGlyphs">90183-05076</text>
<text x="485" y="678" font-size="18" font-weight="bold" fill="#000" textLength="101" lengthAdjust="spacingAndGlyphs">91651-40820</text>
<text x="269.3" y="748" font-size="18" font-weight="bold" fill="#000" textLength="100.7" lengthAdjust="spacingAndGlyphs">93540-55016</text>
<path d="M106 424.7 L106 449" fill="none" stroke="#000" stroke-width="2.36"/>
<circle cx="106.7" cy="463" r="10.7" fill="none" stroke="#000" stroke-width="2"/>
<text x="106.7" y="469.7" font-size="18.5" font-weight="bold" text-anchor="middle">S</text>
<path d="M120 466.3 L140 472" fill="none" stroke="#000" stroke-width="1.89" stroke-dasharray="8 4"/>
<path d="M293.3 415.7 L304 415.7" fill="none" stroke="#000" stroke-width="2.36"/>
<path d="M118.3 537.3 L146.7 537.3" fill="none" stroke="#000" stroke-width="2.36"/>
<circle cx="179" cy="658.7" r="10.7" fill="none" stroke="#000" stroke-width="2"/>
<text x="179" y="665.3" font-size="18.5" font-weight="bold" text-anchor="middle">B</text>
<path d="M155 658.7 L167.7 658.7" fill="none" stroke="#000" stroke-width="2.36"/>
<path d="M179 626.3 L179 647" fill="none" stroke="#000" stroke-width="1.89" stroke-dasharray="9 4"/>
<path d="M295 649.7 L313.3 649.7" fill="none" stroke="#000" stroke-width="2.36"/>
<path d="M313.3 683 L330 683" fill="none" stroke="#000" stroke-width="2.36"/>
<path d="M410.7 678 L410.7 704.7" fill="none" stroke="#000" stroke-width="2.36"/>
<path d="M395 533 L395 663 L405 668" fill="none" stroke="#000" stroke-width="1.89" stroke-dasharray="9 4"/>
<path d="M393.3 611.3 L416.7 611.3" fill="none" stroke="#000" stroke-width="2.36"/>
<path d="M320 589.7 L380 606.3" fill="none" stroke="#000" stroke-width="1.89" stroke-dasharray="10 3 2 3"/>
<path d="M440 639.7 L465 639.7" fill="none" stroke="#000" stroke-width="2.36"/>
<text x="606.7" y="384.7" font-size="20.5" font-weight="bold" fill="#000" textLength="55" lengthAdjust="spacingAndGlyphs">55908</text>
<text x="741.7" y="394" font-size="18" font-weight="bold" fill="#000" textLength="99.3" lengthAdjust="spacingAndGlyphs">90119-06048</text>
<text x="921.7" y="390.3" font-size="20.5" font-weight="bold" fill="#000" textLength="54.3" lengthAdjust="spacingAndGlyphs">55452</text>
<text x="865.3" y="424" font-size="20.5" font-weight="bold" fill="#000" textLength="69.7" lengthAdjust="spacingAndGlyphs">Refer to</text>
<text x="864.3" y="444" font-size="20.5" font-weight="bold" fill="#000" textLength="95" lengthAdjust="spacingAndGlyphs">FIG. 55-52</text>
<text x="863.7" y="456.3" font-size="13.5" font-weight="bold" fill="#000" textLength="84.7" lengthAdjust="spacingAndGlyphs">(PNC 55820)</text>
<text x="737.7" y="549" font-size="18" font-weight="bold" fill="#000" textLength="99.3" lengthAdjust="spacingAndGlyphs">90183-05001</text>
<text x="660" y="578" font-size="18" font-weight="bold" fill="#000" textLength="99.3" lengthAdjust="spacingAndGlyphs">90183-04015</text>
<text x="727.7" y="614.7" font-size="20.5" font-weight="bold" fill="#000" textLength="55" lengthAdjust="spacingAndGlyphs">55602</text>
<text x="1043.3" y="550.7" font-size="18" font-weight="bold" fill="#000" textLength="99.7" lengthAdjust="spacingAndGlyphs">93560-55014</text>
<path d="M571 379 L602.7 379" fill="none" stroke="#000" stroke-width="2.36"/>
<path d="M721 388 L737.7 388" fill="none" stroke="#000" stroke-width="2.36"/>
<path d="M951 394.7 L951 403" fill="none" stroke="#000" stroke-width="2.36"/>
<path d="M906.7 406.3 L906.7 403 L992.7 403 L992.7 453" fill="none" stroke="#000" stroke-width="2.36"/>
<path d="M906.7 460.3 L906.7 586.3" fill="none" stroke="#000" stroke-width="2.36"/>
<path d="M712.7 543.7 L735.3 543.7" fill="none" stroke="#000" stroke-width="2.36"/>
<path d="M706 473 L706 536.3" fill="none" stroke="#000" stroke-width="1.89" stroke-dasharray="9 4"/>
<path d="M632.7 572 L657.7 572" fill="none" stroke="#000" stroke-width="2.36"/>
<path d="M699.3 607.3 L726 607.3" fill="none" stroke="#000" stroke-width="2.36"/>
<circle cx="608.7" cy="670.7" r="10.7" fill="none" stroke="#000" stroke-width="2"/>
<text x="608.7" y="677.3" font-size="18.5" font-weight="bold" text-anchor="middle">B</text>
<path d="M608.7 636.3 L608.7 659" fill="none" stroke="#000" stroke-width="1.89" stroke-dasharray="9 4"/>
<path d="M587.7 670.7 L597.7 670.7" fill="none" stroke="#000" stroke-width="2.36"/>
<circle cx="1006" cy="546.3" r="10.7" fill="none" stroke="#000" stroke-width="2"/>
<text x="1006" y="553" font-size="18.5" font-weight="bold" text-anchor="middle">S</text>
<path d="M989.3 501.3 L1001 534.7" fill="none" stroke="#000" stroke-width="1.89" stroke-dasharray="8 4"/>
<path d="M1017.7 546.3 L1041 546.3" fill="none" stroke="#000" stroke-width="2.36"/>
<text x="1385.3" y="442" font-size="18" font-weight="bold" fill="#000" textLength="99.3" lengthAdjust="spacingAndGlyphs">93560-55014</text>
<circle cx="1523" cy="430.7" r="10.7" fill="none" stroke="#000" stroke-width="2"/>
<text x="1523" y="437.3" font-size="18.5" font-weight="bold" text-anchor="middle">S</text>
<path d="M1487 431.3 L1511.3 431.3" fill="none" stroke="#000" stroke-width="2.36"/>
<path d="M1512 398 L1520.3 419.7" fill="none" stroke="#000" stroke-width="1.89" stroke-dasharray="8 4"/>
<text x="1308" y="554" font-size="20.5" font-weight="bold" fill="#000" textLength="54" lengthAdjust="spacingAndGlyphs">55619</text>
<text x="1253.7" y="590.3" font-size="20.5" font-weight="bold" fill="#000" textLength="55" lengthAdjust="spacingAndGlyphs">55476</text>
<text x="1154.7" y="585.3" font-size="20.5" font-weight="bold" fill="#000" textLength="55" lengthAdjust="spacingAndGlyphs">55488</text>
<text x="1428.7" y="545.7" font-size="20.5" font-weight="bold" fill="#000" textLength="70" lengthAdjust="spacingAndGlyphs">Refer to</text>
<text x="1428" y="567.3" font-size="20.5" font-weight="bold" fill="#000" textLength="94" lengthAdjust="spacingAndGlyphs">FIG. 55-52</text>
<text x="1428" y="579.7" font-size="13.5" font-weight="bold" fill="#000" textLength="82.3" lengthAdjust="spacingAndGlyphs">(PNC 55810)</text>
<text x="1475.3" y="610.7" font-size="20.5" font-weight="bold" fill="#000" textLength="51.7" lengthAdjust="spacingAndGlyphs">55451</text>
<text x="1353.7" y="645.7" font-size="20.5" font-weight="bold" fill="#000" textLength="54.3" lengthAdjust="spacingAndGlyphs">55512</text>
<text x="1445.3" y="680.3" font-size="20.5" font-weight="bold" fill="#000" textLength="55" lengthAdjust="spacingAndGlyphs">55453</text>
<text x="1267" y="727.3" font-size="18" font-weight="bold" fill="#000" textLength="98.3" lengthAdjust="spacingAndGlyphs">90159-40041</text>
<text x="1061" y="716.3" font-size="18" font-weight="bold" fill="#000" textLength="99.3" lengthAdjust="spacingAndGlyphs">93540-54010</text>
<path d="M1530.3 393 L1540.3 401.3 L1540.3 589 L1468.7 589" fill="none" stroke="#000" stroke-width="2.36"/>
<path d="M1470.3 498 L1470.3 529.7" fill="none" stroke="#000" stroke-width="2.36"/>
<path d="M1504.3 589 L1504.3 593.7" fill="none" stroke="#000" stroke-width="2.36"/>
<path d="M1336.3 514.7 L1336.3 536.3" fill="none" stroke="#000" stroke-width="2.36"/>
<path d="M1282 524.7 L1282 573" fill="none" stroke="#000" stroke-width="2.36"/>
<path d="M1183 588 L1183 613" fill="none" stroke="#000" stroke-width="2.36"/>
<path d="M1272 416.3 L1272 506.3 L1278.7 509.7" fill="none" stroke="#000" stroke-width="1.89" stroke-dasharray="9 4"/>
<path d="M1317 406.3 L1317 499.7 L1325.3 501.3" fill="none" stroke="#000" stroke-width="1.89" stroke-dasharray="9 4"/>
<circle cx="1108.7" cy="639.7" r="10.7" fill="none" stroke="#000" stroke-width="2"/>
<text x="1108.7" y="646.3" font-size="18.5" font-weight="bold" text-anchor="middle">S</text>
<path d="M1122 639.7 L1157 643.7" fill="none" stroke="#000" stroke-width="1.89" stroke-dasharray="10 4"/>
<path d="M1108.7 651.3 L1108.7 701.3" fill="none" stroke="#000" stroke-width="2.36"/>
<path d="M1325.3 639 L1350.3 639" fill="none" stroke="#000" stroke-width="2.36"/>
<path d="M1417 674.7 L1442 674.7" fill="none" stroke="#000" stroke-width="2.36"/>
<path d="M1318 684.7 L1318 713" fill="none" stroke="#000" stroke-width="2.36"/>
<circle cx="1234.7" cy="695.7" r="10.7" fill="none" stroke="#000" stroke-width="2"/>
<text x="1234.7" y="702.3" font-size="18.5" font-weight="bold" text-anchor="middle">S</text>
<path d="M1234.7 707.3 L1234.7 743" fill="none" stroke="#000" stroke-width="2.36"/>
<path d="M1205.3 683 L1222 689.7" fill="none" stroke="#000" stroke-width="1.89" stroke-dasharray="8 4"/>
<text x="1184.3" y="760.7" font-size="18" font-weight="bold" fill="#000" textLength="100" lengthAdjust="spacingAndGlyphs">93530-55020</text>
<text x="1317.7" y="792.3" font-size="20.5" font-weight="bold" fill="#000" textLength="54.3" lengthAdjust="spacingAndGlyphs">55330</text>
<circle cx="1307.7" cy="849" r="10.7" fill="none" stroke="#000" stroke-width="2"/>
<text x="1307.7" y="855.7" font-size="18.5" font-weight="bold" text-anchor="middle">S</text>
<path d="M1285.3 805 L1302 836.7" fill="none" stroke="#000" stroke-width="1.89" stroke-dasharray="9 4"/>
<path d="M1320.3 848.3 L1345.3 848.3" fill="none" stroke="#000" stroke-width="2.36"/>
<path d="M1290.3 788.3 L1313.7 788.3" fill="none" stroke="#000" stroke-width="2.36"/>
<text x="1349.7" y="854.3" font-size="18" font-weight="bold" fill="#000" textLength="99" lengthAdjust="spacingAndGlyphs">93560-55014</text>
<text x="1458.7" y="1068.3" font-size="18" font-weight="bold" fill="#000" textLength="23.3" lengthAdjust="spacingAndGlyphs">MB</text>
<text x="1493.7" y="1068.3" font-size="18" font-weight="bold" fill="#000" textLength="53.3" lengthAdjust="spacingAndGlyphs">A767-J</text>
<text x="161.7" y="790.7" font-size="20.5" font-weight="bold" fill="#000" textLength="69" lengthAdjust="spacingAndGlyphs">55513A</text>
<text x="412.7" y="777.7" font-size="20.5" font-weight="bold" fill="#000" textLength="69.7" lengthAdjust="spacingAndGlyphs">55513A</text>
<circle cx="321" cy="773.3" r="10.7" fill="none" stroke="#000" stroke-width="2"/>
<text x="321" y="780" font-size="18.5" font-weight="bold" text-anchor="middle">S</text>
<path d="M320 749 L320 761.7" fill="none" stroke="#000" stroke-width="2.36"/>
<path d="M335 770 L371.7 763.3" fill="none" stroke="#000" stroke-width="1.89" stroke-dasharray="9 4"/>
<path d="M235 783.3 L258.3 783.3" fill="none" stroke="#000" stroke-width="2.36"/>
<path d="M390 771.7 L409.3 771.7" fill="none" stroke="#000" stroke-width="2.36"/>
<text x="120.7" y="825.7" font-size="18" font-weight="bold" fill="#000" textLength="100" lengthAdjust="spacingAndGlyphs">93520-54010</text>
<circle cx="265" cy="819" r="10.7" fill="none" stroke="#000" stroke-width="2"/>
<text x="265" y="825.7" font-size="18.5" font-weight="bold" text-anchor="middle">S</text>
<path d="M116.7 820 L106.7 820 L106.7 946.7 L113.3 951" fill="none" stroke="#000" stroke-width="2.36"/>
<path d="M100 881 L243.3 881" fill="none" stroke="#000" stroke-width="2.36"/>
<path d="M223.3 820 L253.3 820" fill="none" stroke="#000" stroke-width="2.36"/>
<path d="M276.7 825 L293.3 832.3" fill="none" stroke="#000" stroke-width="2.36"/>
<text x="43.3" y="895.7" font-size="20.5" font-weight="bold" fill="#000" textLength="55.7" lengthAdjust="spacingAndGlyphs">55510</text>
<circle cx="322.7" cy="914.3" r="10.7" fill="none" stroke="#000" stroke-width="2"/>
<text x="322.7" y="921" font-size="18.5" font-weight="bold" text-anchor="middle">S</text>
<path d="M293.3 900 L311.7 910" fill="none" stroke="#000" stroke-width="1.89" stroke-dasharray="8 3 2 3"/>
<path d="M334.3 912.7 L358.3 912.7" fill="none" stroke="#000" stroke-width="2.36"/>
<text x="362.3" y="917.7" font-size="18" font-weight="bold" fill="#000" textLength="101" lengthAdjust="spacingAndGlyphs">93240-56010</text>
<text x="115" y="957.3" font-size="20.5" font-weight="bold" fill="#000" textLength="54.3" lengthAdjust="spacingAndGlyphs">55521</text>
<path d="M173.3 951.7 L341.7 951.7" fill="none" stroke="#000" stroke-width="2.36"/>
<text x="493.3" y="831.7" font-size="19" font-weight="bold" fill="#000" textLength="30.7" lengthAdjust="spacingAndGlyphs">WG</text>
<path d="M489.5 836 L907 836 L907 1069 L489.5 1069Z" fill="none" stroke="#000" stroke-width="2.12"/>
<text x="505" y="1010.7" font-size="18" font-weight="bold" fill="#000" textLength="101" lengthAdjust="spacingAndGlyphs">93229-54010</text>
<text x="809.3" y="860" font-size="20.5" font-weight="bold" fill="#000" textLength="69" lengthAdjust="spacingAndGlyphs">55561A</text>
<text x="776" y="895" font-size="18" font-weight="bold" fill="#000" textLength="99.3" lengthAdjust="spacingAndGlyphs">90159-50068</text>
<text x="718.7" y="1009.3" font-size="20.5" font-weight="bold" fill="#000" textLength="55.7" lengthAdjust="spacingAndGlyphs">55505</text>
<text x="625" y="1043.3" font-size="20.5" font-weight="bold" fill="#000" textLength="55.3" lengthAdjust="spacingAndGlyphs">55510</text>
<circle cx="554.3" cy="891.7" r="10.7" fill="none" stroke="#000" stroke-width="2"/>
<text x="554.3" y="898.3" font-size="18.5" font-weight="bold" text-anchor="middle">S</text>
<path d="M567.7 896.7 L591 905" fill="none" stroke="#000" stroke-width="1.89" stroke-dasharray="9 4"/>
<path d="M554.3 903.3 L554.3 994.3" fill="none" stroke="#000" stroke-width="2.36"/>
<path d="M554.3 1012.7 L554.3 1020 L747.7 1020 L747.7 1011.7" fill="none" stroke="#000" stroke-width="2.36"/>
<path d="M650.3 963.3 L650.3 1025" fill="none" stroke="#000" stroke-width="2.36"/>
<path d="M784.3 854.3 L806.7 854.3" fill="none" stroke="#000" stroke-width="2.36"/>
<path d="M749.3 887.7 L773.3 887.7" fill="none" stroke="#000" stroke-width="2.36"/>
<path d="M747 958.3 L747 993.3" fill="none" stroke="#000" stroke-width="2.36"/>
</svg>
</body></html>
